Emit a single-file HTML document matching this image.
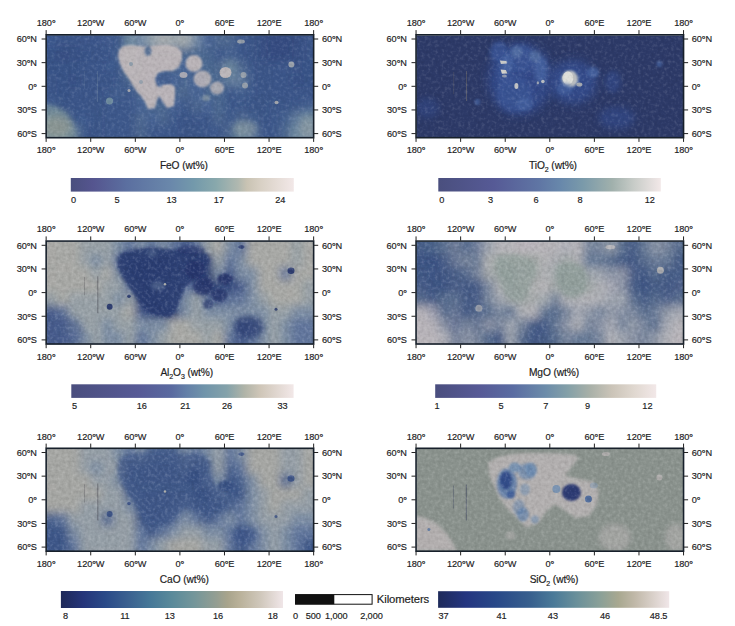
<!DOCTYPE html>
<html><head><meta charset="utf-8"><title>Lunar oxide maps</title>
<style>html,body{margin:0;padding:0;background:#fff;} body{width:735px;height:626px;overflow:hidden;font-family:"Liberation Sans", sans-serif;} svg{display:block}</style>
</head><body>
<svg width="735" height="626" viewBox="0 0 735 626" font-family='"Liberation Sans", sans-serif'>
<style>text{stroke:#1d1d22;stroke-width:0.18px;paint-order:stroke;letter-spacing:-0.1px}</style>
<defs>
<clipPath id="mclip"><rect x="1.5" y="1.6" width="267.2" height="102.4"/></clipPath>
<filter id="gb1" x="-5%" y="-5%" width="110%" height="110%"><feGaussianBlur stdDeviation="1"/></filter><filter id="gb2" x="-5%" y="-5%" width="110%" height="110%"><feGaussianBlur stdDeviation="2"/></filter><filter id="gb3" x="-5%" y="-5%" width="110%" height="110%"><feGaussianBlur stdDeviation="3"/></filter><filter id="gb4" x="-5%" y="-5%" width="110%" height="110%"><feGaussianBlur stdDeviation="4"/></filter><filter id="gb5" x="-5%" y="-5%" width="110%" height="110%"><feGaussianBlur stdDeviation="5"/></filter><filter id="gb6" x="-5%" y="-5%" width="110%" height="110%"><feGaussianBlur stdDeviation="6"/></filter><filter id="gb7" x="-5%" y="-5%" width="110%" height="110%"><feGaussianBlur stdDeviation="7"/></filter><filter id="gb8" x="-5%" y="-5%" width="110%" height="110%"><feGaussianBlur stdDeviation="8"/></filter><filter id="gb9" x="-5%" y="-5%" width="110%" height="110%"><feGaussianBlur stdDeviation="9"/></filter><filter id="gb10" x="-5%" y="-5%" width="110%" height="110%"><feGaussianBlur stdDeviation="10"/></filter><filter id="gb11" x="-5%" y="-5%" width="110%" height="110%"><feGaussianBlur stdDeviation="11"/></filter><filter id="gb12" x="-5%" y="-5%" width="110%" height="110%"><feGaussianBlur stdDeviation="12"/></filter><filter id="b1" x="-50%" y="-50%" width="200%" height="200%"><feGaussianBlur stdDeviation="0.5"/></filter><filter id="b2" x="-50%" y="-50%" width="200%" height="200%"><feGaussianBlur stdDeviation="1.0"/></filter><filter id="b3" x="-50%" y="-50%" width="200%" height="200%"><feGaussianBlur stdDeviation="1.5"/></filter><filter id="b4" x="-50%" y="-50%" width="200%" height="200%"><feGaussianBlur stdDeviation="2.0"/></filter><filter id="b5" x="-50%" y="-50%" width="200%" height="200%"><feGaussianBlur stdDeviation="2.5"/></filter><filter id="b6" x="-50%" y="-50%" width="200%" height="200%"><feGaussianBlur stdDeviation="3.0"/></filter><filter id="b7" x="-50%" y="-50%" width="200%" height="200%"><feGaussianBlur stdDeviation="3.5"/></filter><filter id="b8" x="-50%" y="-50%" width="200%" height="200%"><feGaussianBlur stdDeviation="4.0"/></filter><filter id="b9" x="-50%" y="-50%" width="200%" height="200%"><feGaussianBlur stdDeviation="4.5"/></filter><filter id="b10" x="-50%" y="-50%" width="200%" height="200%"><feGaussianBlur stdDeviation="5.0"/></filter><filter id="b11" x="-50%" y="-50%" width="200%" height="200%"><feGaussianBlur stdDeviation="5.5"/></filter><filter id="b12" x="-50%" y="-50%" width="200%" height="200%"><feGaussianBlur stdDeviation="6.0"/></filter><filter id="b13" x="-50%" y="-50%" width="200%" height="200%"><feGaussianBlur stdDeviation="6.5"/></filter><filter id="b14" x="-50%" y="-50%" width="200%" height="200%"><feGaussianBlur stdDeviation="7.0"/></filter><filter id="b15" x="-50%" y="-50%" width="200%" height="200%"><feGaussianBlur stdDeviation="7.5"/></filter><filter id="b16" x="-50%" y="-50%" width="200%" height="200%"><feGaussianBlur stdDeviation="8.0"/></filter><filter id="b17" x="-50%" y="-50%" width="200%" height="200%"><feGaussianBlur stdDeviation="8.5"/></filter><filter id="b18" x="-50%" y="-50%" width="200%" height="200%"><feGaussianBlur stdDeviation="9.0"/></filter><filter id="b19" x="-50%" y="-50%" width="200%" height="200%"><feGaussianBlur stdDeviation="9.5"/></filter><filter id="b20" x="-50%" y="-50%" width="200%" height="200%"><feGaussianBlur stdDeviation="10.0"/></filter>
<filter id="noise" x="0" y="0" width="100%" height="100%"><feTurbulence type="fractalNoise" baseFrequency="0.3" numOctaves="2" seed="3"/><feColorMatrix type="matrix" values="0 0 0 0 1  0 0 0 0 1  0 0 0 0 1  1.1 0 0 0 -0.55"/></filter>
<filter id="noiseD" x="0" y="0" width="100%" height="100%"><feTurbulence type="fractalNoise" baseFrequency="0.3" numOctaves="2" seed="3"/><feColorMatrix type="matrix" values="0 0 0 0 0  0 0 0 0 0  0 0 0 0 0  -1.1 0 0 0 0.55"/></filter>
</defs>
<rect width="735" height="626" fill="#fff"/>
<g transform="translate(45.00,34.00)" clip-path="url(#mclip)"><rect x="0" y="0" width="270" height="106" fill="#405c8f"/><g filter="url(#gb4)" opacity="1.0"><rect x="-9.93" y="-11.50" width="11.73" height="13.40" fill="#3b578d"/><rect x="1.20" y="-11.50" width="11.73" height="13.40" fill="#3b578d"/><rect x="12.33" y="-11.50" width="11.73" height="13.40" fill="#3a5589"/><rect x="23.47" y="-11.50" width="11.73" height="13.40" fill="#3a5589"/><rect x="34.60" y="-11.50" width="11.73" height="13.40" fill="#3c568b"/><rect x="45.73" y="-11.50" width="11.73" height="13.40" fill="#3a5589"/><rect x="56.87" y="-11.50" width="11.73" height="13.40" fill="#405a8e"/><rect x="68.00" y="-11.50" width="11.73" height="13.40" fill="#3e588b"/><rect x="79.13" y="-11.50" width="11.73" height="13.40" fill="#718ca1"/><rect x="90.27" y="-11.50" width="11.73" height="13.40" fill="#7188a4"/><rect x="101.40" y="-11.50" width="11.73" height="13.40" fill="#94a2ac"/><rect x="112.53" y="-11.50" width="11.73" height="13.40" fill="#a9adb0"/><rect x="123.67" y="-11.50" width="11.73" height="13.40" fill="#9ba5ac"/><rect x="134.80" y="-11.50" width="11.73" height="13.40" fill="#a2a9ad"/><rect x="145.93" y="-11.50" width="11.73" height="13.40" fill="#7188a4"/><rect x="157.07" y="-11.50" width="11.73" height="13.40" fill="#496596"/><rect x="168.20" y="-11.50" width="11.73" height="13.40" fill="#4d6790"/><rect x="179.33" y="-11.50" width="11.73" height="13.40" fill="#4d6790"/><rect x="190.47" y="-11.50" width="11.73" height="13.40" fill="#3e588b"/><rect x="201.60" y="-11.50" width="11.73" height="13.40" fill="#3a5587"/><rect x="212.73" y="-11.50" width="11.73" height="13.40" fill="#374f83"/><rect x="223.87" y="-11.50" width="11.73" height="13.40" fill="#354c80"/><rect x="235.00" y="-11.50" width="11.73" height="13.40" fill="#354c80"/><rect x="246.13" y="-11.50" width="11.73" height="13.40" fill="#374f83"/><rect x="257.27" y="-11.50" width="11.73" height="13.40" fill="#3a5589"/><rect x="268.40" y="-11.50" width="11.73" height="13.40" fill="#3a5589"/><rect x="-9.93" y="1.30" width="11.73" height="13.40" fill="#3b578d"/><rect x="1.20" y="1.30" width="11.73" height="13.40" fill="#3b578d"/><rect x="12.33" y="1.30" width="11.73" height="13.40" fill="#3a5589"/><rect x="23.47" y="1.30" width="11.73" height="13.40" fill="#3a5589"/><rect x="34.60" y="1.30" width="11.73" height="13.40" fill="#3c568b"/><rect x="45.73" y="1.30" width="11.73" height="13.40" fill="#3a5589"/><rect x="56.87" y="1.30" width="11.73" height="13.40" fill="#405a8e"/><rect x="68.00" y="1.30" width="11.73" height="13.40" fill="#3e588b"/><rect x="79.13" y="1.30" width="11.73" height="13.40" fill="#718ca1"/><rect x="90.27" y="1.30" width="11.73" height="13.40" fill="#7188a4"/><rect x="101.40" y="1.30" width="11.73" height="13.40" fill="#94a2ac"/><rect x="112.53" y="1.30" width="11.73" height="13.40" fill="#a9adb0"/><rect x="123.67" y="1.30" width="11.73" height="13.40" fill="#9ba5ac"/><rect x="134.80" y="1.30" width="11.73" height="13.40" fill="#a2a9ad"/><rect x="145.93" y="1.30" width="11.73" height="13.40" fill="#7188a4"/><rect x="157.07" y="1.30" width="11.73" height="13.40" fill="#496596"/><rect x="168.20" y="1.30" width="11.73" height="13.40" fill="#4d6790"/><rect x="179.33" y="1.30" width="11.73" height="13.40" fill="#4d6790"/><rect x="190.47" y="1.30" width="11.73" height="13.40" fill="#3e588b"/><rect x="201.60" y="1.30" width="11.73" height="13.40" fill="#3a5587"/><rect x="212.73" y="1.30" width="11.73" height="13.40" fill="#374f83"/><rect x="223.87" y="1.30" width="11.73" height="13.40" fill="#354c80"/><rect x="235.00" y="1.30" width="11.73" height="13.40" fill="#354c80"/><rect x="246.13" y="1.30" width="11.73" height="13.40" fill="#374f83"/><rect x="257.27" y="1.30" width="11.73" height="13.40" fill="#3a5589"/><rect x="268.40" y="1.30" width="11.73" height="13.40" fill="#3a5589"/><rect x="-9.93" y="14.10" width="11.73" height="13.40" fill="#385387"/><rect x="1.20" y="14.10" width="11.73" height="13.40" fill="#385387"/><rect x="12.33" y="14.10" width="11.73" height="13.40" fill="#374f83"/><rect x="23.47" y="14.10" width="11.73" height="13.40" fill="#375185"/><rect x="34.60" y="14.10" width="11.73" height="13.40" fill="#385387"/><rect x="45.73" y="14.10" width="11.73" height="13.40" fill="#3a5589"/><rect x="56.87" y="14.10" width="11.73" height="13.40" fill="#3a5589"/><rect x="68.00" y="14.10" width="11.73" height="13.40" fill="#456090"/><rect x="79.13" y="14.10" width="11.73" height="13.40" fill="#718ca1"/><rect x="90.27" y="14.10" width="11.73" height="13.40" fill="#4b6790"/><rect x="101.40" y="14.10" width="11.73" height="13.40" fill="#4b6790"/><rect x="112.53" y="14.10" width="11.73" height="13.40" fill="#4b6790"/><rect x="123.67" y="14.10" width="11.73" height="13.40" fill="#4b6790"/><rect x="134.80" y="14.10" width="11.73" height="13.40" fill="#4b6790"/><rect x="145.93" y="14.10" width="11.73" height="13.40" fill="#4b6790"/><rect x="157.07" y="14.10" width="11.73" height="13.40" fill="#4b6790"/><rect x="168.20" y="14.10" width="11.73" height="13.40" fill="#3e588b"/><rect x="179.33" y="14.10" width="11.73" height="13.40" fill="#456090"/><rect x="190.47" y="14.10" width="11.73" height="13.40" fill="#3e588b"/><rect x="201.60" y="14.10" width="11.73" height="13.40" fill="#3a5587"/><rect x="212.73" y="14.10" width="11.73" height="13.40" fill="#374f83"/><rect x="223.87" y="14.10" width="11.73" height="13.40" fill="#354c80"/><rect x="235.00" y="14.10" width="11.73" height="13.40" fill="#354c80"/><rect x="246.13" y="14.10" width="11.73" height="13.40" fill="#374f83"/><rect x="257.27" y="14.10" width="11.73" height="13.40" fill="#3a5589"/><rect x="268.40" y="14.10" width="11.73" height="13.40" fill="#3a5589"/><rect x="-9.93" y="26.90" width="11.73" height="13.40" fill="#385387"/><rect x="1.20" y="26.90" width="11.73" height="13.40" fill="#385387"/><rect x="12.33" y="26.90" width="11.73" height="13.40" fill="#385387"/><rect x="23.47" y="26.90" width="11.73" height="13.40" fill="#385387"/><rect x="34.60" y="26.90" width="11.73" height="13.40" fill="#3a5589"/><rect x="45.73" y="26.90" width="11.73" height="13.40" fill="#3a5589"/><rect x="56.87" y="26.90" width="11.73" height="13.40" fill="#3e5a8e"/><rect x="68.00" y="26.90" width="11.73" height="13.40" fill="#3e588b"/><rect x="79.13" y="26.90" width="11.73" height="13.40" fill="#718ca1"/><rect x="90.27" y="26.90" width="11.73" height="13.40" fill="#4b6790"/><rect x="101.40" y="26.90" width="11.73" height="13.40" fill="#4b6790"/><rect x="112.53" y="26.90" width="11.73" height="13.40" fill="#4b6790"/><rect x="123.67" y="26.90" width="11.73" height="13.40" fill="#4b6790"/><rect x="134.80" y="26.90" width="11.73" height="13.40" fill="#496596"/><rect x="145.93" y="26.90" width="11.73" height="13.40" fill="#4b6790"/><rect x="157.07" y="26.90" width="11.73" height="13.40" fill="#4b6790"/><rect x="168.20" y="26.90" width="11.73" height="13.40" fill="#4d6790"/><rect x="179.33" y="26.90" width="11.73" height="13.40" fill="#718ca1"/><rect x="190.47" y="26.90" width="11.73" height="13.40" fill="#4d6790"/><rect x="201.60" y="26.90" width="11.73" height="13.40" fill="#3e588b"/><rect x="212.73" y="26.90" width="11.73" height="13.40" fill="#3a5587"/><rect x="223.87" y="26.90" width="11.73" height="13.40" fill="#3a5589"/><rect x="235.00" y="26.90" width="11.73" height="13.40" fill="#3e588b"/><rect x="246.13" y="26.90" width="11.73" height="13.40" fill="#3a5589"/><rect x="257.27" y="26.90" width="11.73" height="13.40" fill="#385387"/><rect x="268.40" y="26.90" width="11.73" height="13.40" fill="#385387"/><rect x="-9.93" y="39.70" width="11.73" height="13.40" fill="#3a5589"/><rect x="1.20" y="39.70" width="11.73" height="13.40" fill="#3a5589"/><rect x="12.33" y="39.70" width="11.73" height="13.40" fill="#385387"/><rect x="23.47" y="39.70" width="11.73" height="13.40" fill="#375185"/><rect x="34.60" y="39.70" width="11.73" height="13.40" fill="#3a5589"/><rect x="45.73" y="39.70" width="11.73" height="13.40" fill="#3a5589"/><rect x="56.87" y="39.70" width="11.73" height="13.40" fill="#3a5587"/><rect x="68.00" y="39.70" width="11.73" height="13.40" fill="#3e588b"/><rect x="79.13" y="39.70" width="11.73" height="13.40" fill="#4b6790"/><rect x="90.27" y="39.70" width="11.73" height="13.40" fill="#4b6790"/><rect x="101.40" y="39.70" width="11.73" height="13.40" fill="#496596"/><rect x="112.53" y="39.70" width="11.73" height="13.40" fill="#496596"/><rect x="123.67" y="39.70" width="11.73" height="13.40" fill="#496596"/><rect x="134.80" y="39.70" width="11.73" height="13.40" fill="#4b6790"/><rect x="145.93" y="39.70" width="11.73" height="13.40" fill="#496596"/><rect x="157.07" y="39.70" width="11.73" height="13.40" fill="#4b6790"/><rect x="168.20" y="39.70" width="11.73" height="13.40" fill="#4b6790"/><rect x="179.33" y="39.70" width="11.73" height="13.40" fill="#637d9c"/><rect x="190.47" y="39.70" width="11.73" height="13.40" fill="#637d9c"/><rect x="201.60" y="39.70" width="11.73" height="13.40" fill="#3e588b"/><rect x="212.73" y="39.70" width="11.73" height="13.40" fill="#3a5587"/><rect x="223.87" y="39.70" width="11.73" height="13.40" fill="#3a5589"/><rect x="235.00" y="39.70" width="11.73" height="13.40" fill="#3a5589"/><rect x="246.13" y="39.70" width="11.73" height="13.40" fill="#375185"/><rect x="257.27" y="39.70" width="11.73" height="13.40" fill="#385387"/><rect x="268.40" y="39.70" width="11.73" height="13.40" fill="#385387"/><rect x="-9.93" y="52.50" width="11.73" height="13.40" fill="#3a5589"/><rect x="1.20" y="52.50" width="11.73" height="13.40" fill="#3a5589"/><rect x="12.33" y="52.50" width="11.73" height="13.40" fill="#385387"/><rect x="23.47" y="52.50" width="11.73" height="13.40" fill="#3a5589"/><rect x="34.60" y="52.50" width="11.73" height="13.40" fill="#3a5589"/><rect x="45.73" y="52.50" width="11.73" height="13.40" fill="#3a5589"/><rect x="56.87" y="52.50" width="11.73" height="13.40" fill="#3e588b"/><rect x="68.00" y="52.50" width="11.73" height="13.40" fill="#456090"/><rect x="79.13" y="52.50" width="11.73" height="13.40" fill="#3e588b"/><rect x="90.27" y="52.50" width="11.73" height="13.40" fill="#4b6790"/><rect x="101.40" y="52.50" width="11.73" height="13.40" fill="#4b6790"/><rect x="112.53" y="52.50" width="11.73" height="13.40" fill="#496596"/><rect x="123.67" y="52.50" width="11.73" height="13.40" fill="#4b6790"/><rect x="134.80" y="52.50" width="11.73" height="13.40" fill="#4d6790"/><rect x="145.93" y="52.50" width="11.73" height="13.40" fill="#496596"/><rect x="157.07" y="52.50" width="11.73" height="13.40" fill="#4b6790"/><rect x="168.20" y="52.50" width="11.73" height="13.40" fill="#4b6790"/><rect x="179.33" y="52.50" width="11.73" height="13.40" fill="#3e588b"/><rect x="190.47" y="52.50" width="11.73" height="13.40" fill="#456090"/><rect x="201.60" y="52.50" width="11.73" height="13.40" fill="#3e588b"/><rect x="212.73" y="52.50" width="11.73" height="13.40" fill="#3a5587"/><rect x="223.87" y="52.50" width="11.73" height="13.40" fill="#3a5589"/><rect x="235.00" y="52.50" width="11.73" height="13.40" fill="#3a5589"/><rect x="246.13" y="52.50" width="11.73" height="13.40" fill="#3a5589"/><rect x="257.27" y="52.50" width="11.73" height="13.40" fill="#3a5589"/><rect x="268.40" y="52.50" width="11.73" height="13.40" fill="#3a5589"/><rect x="-9.93" y="65.30" width="11.73" height="13.40" fill="#456191"/><rect x="1.20" y="65.30" width="11.73" height="13.40" fill="#456191"/><rect x="12.33" y="65.30" width="11.73" height="13.40" fill="#3a5587"/><rect x="23.47" y="65.30" width="11.73" height="13.40" fill="#3a5589"/><rect x="34.60" y="65.30" width="11.73" height="13.40" fill="#3a5589"/><rect x="45.73" y="65.30" width="11.73" height="13.40" fill="#3a5587"/><rect x="56.87" y="65.30" width="11.73" height="13.40" fill="#3e588b"/><rect x="68.00" y="65.30" width="11.73" height="13.40" fill="#3e588b"/><rect x="79.13" y="65.30" width="11.73" height="13.40" fill="#3e588b"/><rect x="90.27" y="65.30" width="11.73" height="13.40" fill="#496596"/><rect x="101.40" y="65.30" width="11.73" height="13.40" fill="#4b6790"/><rect x="112.53" y="65.30" width="11.73" height="13.40" fill="#4b6790"/><rect x="123.67" y="65.30" width="11.73" height="13.40" fill="#496596"/><rect x="134.80" y="65.30" width="11.73" height="13.40" fill="#3e588b"/><rect x="145.93" y="65.30" width="11.73" height="13.40" fill="#4d6790"/><rect x="157.07" y="65.30" width="11.73" height="13.40" fill="#496596"/><rect x="168.20" y="65.30" width="11.73" height="13.40" fill="#4b6790"/><rect x="179.33" y="65.30" width="11.73" height="13.40" fill="#3e588b"/><rect x="190.47" y="65.30" width="11.73" height="13.40" fill="#3e588b"/><rect x="201.60" y="65.30" width="11.73" height="13.40" fill="#3a5587"/><rect x="212.73" y="65.30" width="11.73" height="13.40" fill="#3a5587"/><rect x="223.87" y="65.30" width="11.73" height="13.40" fill="#3e588b"/><rect x="235.00" y="65.30" width="11.73" height="13.40" fill="#3a5587"/><rect x="246.13" y="65.30" width="11.73" height="13.40" fill="#3e588b"/><rect x="257.27" y="65.30" width="11.73" height="13.40" fill="#456090"/><rect x="268.40" y="65.30" width="11.73" height="13.40" fill="#456090"/><rect x="-9.93" y="78.10" width="11.73" height="13.40" fill="#718c9d"/><rect x="1.20" y="78.10" width="11.73" height="13.40" fill="#718c9d"/><rect x="12.33" y="78.10" width="11.73" height="13.40" fill="#637d99"/><rect x="23.47" y="78.10" width="11.73" height="13.40" fill="#3e588b"/><rect x="34.60" y="78.10" width="11.73" height="13.40" fill="#3e5a8e"/><rect x="45.73" y="78.10" width="11.73" height="13.40" fill="#3a5587"/><rect x="56.87" y="78.10" width="11.73" height="13.40" fill="#3e588b"/><rect x="68.00" y="78.10" width="11.73" height="13.40" fill="#3e588b"/><rect x="79.13" y="78.10" width="11.73" height="13.40" fill="#3e588b"/><rect x="90.27" y="78.10" width="11.73" height="13.40" fill="#4d6790"/><rect x="101.40" y="78.10" width="11.73" height="13.40" fill="#496596"/><rect x="112.53" y="78.10" width="11.73" height="13.40" fill="#4d6790"/><rect x="123.67" y="78.10" width="11.73" height="13.40" fill="#3e588b"/><rect x="134.80" y="78.10" width="11.73" height="13.40" fill="#3a5587"/><rect x="145.93" y="78.10" width="11.73" height="13.40" fill="#3e588b"/><rect x="157.07" y="78.10" width="11.73" height="13.40" fill="#3e588b"/><rect x="168.20" y="78.10" width="11.73" height="13.40" fill="#4d6790"/><rect x="179.33" y="78.10" width="11.73" height="13.40" fill="#3e588b"/><rect x="190.47" y="78.10" width="11.73" height="13.40" fill="#4d6790"/><rect x="201.60" y="78.10" width="11.73" height="13.40" fill="#456090"/><rect x="212.73" y="78.10" width="11.73" height="13.40" fill="#3a5587"/><rect x="223.87" y="78.10" width="11.73" height="13.40" fill="#3e588b"/><rect x="235.00" y="78.10" width="11.73" height="13.40" fill="#456090"/><rect x="246.13" y="78.10" width="11.73" height="13.40" fill="#637d9c"/><rect x="257.27" y="78.10" width="11.73" height="13.40" fill="#718ca1"/><rect x="268.40" y="78.10" width="11.73" height="13.40" fill="#718ca1"/><rect x="-9.93" y="90.90" width="11.73" height="13.40" fill="#80939d"/><rect x="1.20" y="90.90" width="11.73" height="13.40" fill="#80939d"/><rect x="12.33" y="90.90" width="11.73" height="13.40" fill="#80939d"/><rect x="23.47" y="90.90" width="11.73" height="13.40" fill="#637d99"/><rect x="34.60" y="90.90" width="11.73" height="13.40" fill="#3e588b"/><rect x="45.73" y="90.90" width="11.73" height="13.40" fill="#3a5587"/><rect x="56.87" y="90.90" width="11.73" height="13.40" fill="#3e588b"/><rect x="68.00" y="90.90" width="11.73" height="13.40" fill="#3e588b"/><rect x="79.13" y="90.90" width="11.73" height="13.40" fill="#3e588b"/><rect x="90.27" y="90.90" width="11.73" height="13.40" fill="#4d6790"/><rect x="101.40" y="90.90" width="11.73" height="13.40" fill="#3e588b"/><rect x="112.53" y="90.90" width="11.73" height="13.40" fill="#3e588b"/><rect x="123.67" y="90.90" width="11.73" height="13.40" fill="#3e588b"/><rect x="134.80" y="90.90" width="11.73" height="13.40" fill="#3a5587"/><rect x="145.93" y="90.90" width="11.73" height="13.40" fill="#3a5587"/><rect x="157.07" y="90.90" width="11.73" height="13.40" fill="#3e588b"/><rect x="168.20" y="90.90" width="11.73" height="13.40" fill="#3e588b"/><rect x="179.33" y="90.90" width="11.73" height="13.40" fill="#4d6790"/><rect x="190.47" y="90.90" width="11.73" height="13.40" fill="#718ca1"/><rect x="201.60" y="90.90" width="11.73" height="13.40" fill="#637d9c"/><rect x="212.73" y="90.90" width="11.73" height="13.40" fill="#3e588b"/><rect x="223.87" y="90.90" width="11.73" height="13.40" fill="#3e588b"/><rect x="235.00" y="90.90" width="11.73" height="13.40" fill="#4d6790"/><rect x="246.13" y="90.90" width="11.73" height="13.40" fill="#718ca1"/><rect x="257.27" y="90.90" width="11.73" height="13.40" fill="#8093a4"/><rect x="268.40" y="90.90" width="11.73" height="13.40" fill="#8093a4"/><rect x="-9.93" y="103.70" width="11.73" height="13.40" fill="#80939d"/><rect x="1.20" y="103.70" width="11.73" height="13.40" fill="#80939d"/><rect x="12.33" y="103.70" width="11.73" height="13.40" fill="#80939d"/><rect x="23.47" y="103.70" width="11.73" height="13.40" fill="#637d99"/><rect x="34.60" y="103.70" width="11.73" height="13.40" fill="#3e588b"/><rect x="45.73" y="103.70" width="11.73" height="13.40" fill="#3a5587"/><rect x="56.87" y="103.70" width="11.73" height="13.40" fill="#3e588b"/><rect x="68.00" y="103.70" width="11.73" height="13.40" fill="#3e588b"/><rect x="79.13" y="103.70" width="11.73" height="13.40" fill="#3e588b"/><rect x="90.27" y="103.70" width="11.73" height="13.40" fill="#4d6790"/><rect x="101.40" y="103.70" width="11.73" height="13.40" fill="#3e588b"/><rect x="112.53" y="103.70" width="11.73" height="13.40" fill="#3e588b"/><rect x="123.67" y="103.70" width="11.73" height="13.40" fill="#3e588b"/><rect x="134.80" y="103.70" width="11.73" height="13.40" fill="#3a5587"/><rect x="145.93" y="103.70" width="11.73" height="13.40" fill="#3a5587"/><rect x="157.07" y="103.70" width="11.73" height="13.40" fill="#3e588b"/><rect x="168.20" y="103.70" width="11.73" height="13.40" fill="#3e588b"/><rect x="179.33" y="103.70" width="11.73" height="13.40" fill="#4d6790"/><rect x="190.47" y="103.70" width="11.73" height="13.40" fill="#718ca1"/><rect x="201.60" y="103.70" width="11.73" height="13.40" fill="#637d9c"/><rect x="212.73" y="103.70" width="11.73" height="13.40" fill="#3e588b"/><rect x="223.87" y="103.70" width="11.73" height="13.40" fill="#3e588b"/><rect x="235.00" y="103.70" width="11.73" height="13.40" fill="#4d6790"/><rect x="246.13" y="103.70" width="11.73" height="13.40" fill="#718ca1"/><rect x="257.27" y="103.70" width="11.73" height="13.40" fill="#8093a4"/><rect x="268.40" y="103.70" width="11.73" height="13.40" fill="#8093a4"/></g><path d="M74,16 L78,12 L86,11 L95,12 L102,13 L106,12 L114,11 L124,11 L132,13 L137,18 L137,26 L134,33 L128,37 L120,37 L113,39 L110,45 L112,52 L116,53 L118,50 L126,50 L130,53 L130,62 L129,72 L122,74 L118,68 L114,62 L112,66 L110,74 L103,75 L100,68 L96,62 L92,58 L88,52 L84,45 L79,38 L75,30 L73,22 Z" fill="#bfb8ba" opacity="0.95" filter="url(#b2)"/><ellipse cx="103" cy="17" rx="3.5" ry="5" fill="#4b6790" opacity="0.85" filter="url(#b2)"/><ellipse cx="120" cy="44.5" rx="7" ry="5.5" fill="#456090" opacity="0.9" filter="url(#b2)"/><ellipse cx="86" cy="30" rx="2" ry="2" fill="#718ca1" opacity="0.6" filter="url(#b1)"/><ellipse cx="96" cy="48" rx="2" ry="2" fill="#718ca1" opacity="0.5" filter="url(#b1)"/><ellipse cx="149" cy="29.5" rx="8.5" ry="8.5" fill="#bfb8ba" opacity="0.95" filter="url(#b2)"/><ellipse cx="157.5" cy="45" rx="9" ry="8.5" fill="#bfb8ba" opacity="0.85" filter="url(#b2)"/><ellipse cx="180.5" cy="38.5" rx="6" ry="5.5" fill="#bfb8ba" opacity="0.95" filter="url(#b1.5)"/><ellipse cx="172" cy="54" rx="7" ry="6.5" fill="#bfb8ba" opacity="0.8" filter="url(#b2)"/><ellipse cx="138.5" cy="41" rx="4" ry="3" fill="#bfb8ba" opacity="0.8" filter="url(#b1)"/><ellipse cx="161" cy="64" rx="4" ry="3" fill="#9ba9ac" opacity="0.6" filter="url(#b2)"/><ellipse cx="196" cy="7.5" rx="4" ry="2" fill="#b1b4b1" opacity="0.7" filter="url(#b1)"/><ellipse cx="198.5" cy="41" rx="3" ry="3" fill="#b1b4b4" opacity="0.7" filter="url(#b1)"/><ellipse cx="200" cy="51.5" rx="3" ry="3" fill="#b1b4b4" opacity="0.7" filter="url(#b1)"/><ellipse cx="246.4" cy="30.5" rx="3" ry="3" fill="#b1b4b4" opacity="0.8" filter="url(#b1)"/><ellipse cx="231.5" cy="68.5" rx="2" ry="1.8" fill="#bfbcb8" opacity="0.8" filter="url(#b1)"/><ellipse cx="84" cy="56.5" rx="1.5" ry="1.5" fill="#bfbcb8" opacity="0.8"/><ellipse cx="64.5" cy="67" rx="3.5" ry="3.5" fill="#85a2a8" opacity="0.7" filter="url(#b1)"/><path d="M0,70 L10,72 L20,78 L28,88 L32,104 L0,104 Z" fill="#80979a" opacity="0.6" filter="url(#b4)"/><ellipse cx="12" cy="92" rx="14" ry="10" fill="#9a9a8c" opacity="0.45" filter="url(#b6)"/><ellipse cx="200" cy="94" rx="12" ry="8" fill="#8e9ca1" opacity="0.45" filter="url(#b5)"/><ellipse cx="262" cy="92" rx="8" ry="10" fill="#8e9ca1" opacity="0.45" filter="url(#b5)"/><line x1="52.6" y1="37" x2="52.6" y2="68" stroke="#8ea2b0" stroke-width="0.7" opacity="0.4"/><line x1="39.5" y1="37" x2="39.5" y2="55" stroke="#7184a0" stroke-width="0.7" opacity="0.3"/><rect x="0" y="0" width="270" height="106" filter="url(#noise)" opacity="0.3"/><rect x="0" y="0" width="270" height="106" filter="url(#noiseD)" opacity="0.156"/></g>
<rect x="46.15" y="34.80" width="267.50" height="102.90" fill="none" stroke="#17202b" stroke-width="1.6"/>
<line x1="46.15" y1="30.10" x2="46.15" y2="34.40" stroke="#222" stroke-width="1"/>
<line x1="46.15" y1="138.10" x2="46.15" y2="141.90" stroke="#222" stroke-width="1"/>
<text transform="translate(46.15 26.10) scale(0.93 1)" font-size="9.9" text-anchor="middle" fill="#1d1d1f" >180<tspan font-weight="bold">°</tspan></text>
<text transform="translate(46.15 153.30) scale(0.93 1)" font-size="9.9" text-anchor="middle" fill="#1d1d1f" >180<tspan font-weight="bold">°</tspan></text>
<line x1="90.73" y1="30.10" x2="90.73" y2="34.40" stroke="#222" stroke-width="1"/>
<line x1="90.73" y1="138.10" x2="90.73" y2="141.90" stroke="#222" stroke-width="1"/>
<text transform="translate(90.73 26.10) scale(0.93 1)" font-size="9.9" text-anchor="middle" fill="#1d1d1f" >120<tspan font-weight="bold">°</tspan>W</text>
<text transform="translate(90.73 153.30) scale(0.93 1)" font-size="9.9" text-anchor="middle" fill="#1d1d1f" >120<tspan font-weight="bold">°</tspan>W</text>
<line x1="135.32" y1="30.10" x2="135.32" y2="34.40" stroke="#222" stroke-width="1"/>
<line x1="135.32" y1="138.10" x2="135.32" y2="141.90" stroke="#222" stroke-width="1"/>
<text transform="translate(135.32 26.10) scale(0.93 1)" font-size="9.9" text-anchor="middle" fill="#1d1d1f" >60<tspan font-weight="bold">°</tspan>W</text>
<text transform="translate(135.32 153.30) scale(0.93 1)" font-size="9.9" text-anchor="middle" fill="#1d1d1f" >60<tspan font-weight="bold">°</tspan>W</text>
<line x1="179.90" y1="30.10" x2="179.90" y2="34.40" stroke="#222" stroke-width="1"/>
<line x1="179.90" y1="138.10" x2="179.90" y2="141.90" stroke="#222" stroke-width="1"/>
<text transform="translate(179.90 26.10) scale(0.93 1)" font-size="9.9" text-anchor="middle" fill="#1d1d1f" >0<tspan font-weight="bold">°</tspan></text>
<text transform="translate(179.90 153.30) scale(0.93 1)" font-size="9.9" text-anchor="middle" fill="#1d1d1f" >0<tspan font-weight="bold">°</tspan></text>
<line x1="224.48" y1="30.10" x2="224.48" y2="34.40" stroke="#222" stroke-width="1"/>
<line x1="224.48" y1="138.10" x2="224.48" y2="141.90" stroke="#222" stroke-width="1"/>
<text transform="translate(224.48 26.10) scale(0.93 1)" font-size="9.9" text-anchor="middle" fill="#1d1d1f" >60<tspan font-weight="bold">°</tspan>E</text>
<text transform="translate(224.48 153.30) scale(0.93 1)" font-size="9.9" text-anchor="middle" fill="#1d1d1f" >60<tspan font-weight="bold">°</tspan>E</text>
<line x1="269.07" y1="30.10" x2="269.07" y2="34.40" stroke="#222" stroke-width="1"/>
<line x1="269.07" y1="138.10" x2="269.07" y2="141.90" stroke="#222" stroke-width="1"/>
<text transform="translate(269.07 26.10) scale(0.93 1)" font-size="9.9" text-anchor="middle" fill="#1d1d1f" >120<tspan font-weight="bold">°</tspan>E</text>
<text transform="translate(269.07 153.30) scale(0.93 1)" font-size="9.9" text-anchor="middle" fill="#1d1d1f" >120<tspan font-weight="bold">°</tspan>E</text>
<line x1="313.65" y1="30.10" x2="313.65" y2="34.40" stroke="#222" stroke-width="1"/>
<line x1="313.65" y1="138.10" x2="313.65" y2="141.90" stroke="#222" stroke-width="1"/>
<text transform="translate(313.65 26.10) scale(0.93 1)" font-size="9.9" text-anchor="middle" fill="#1d1d1f" >180<tspan font-weight="bold">°</tspan></text>
<text transform="translate(313.65 153.30) scale(0.93 1)" font-size="9.9" text-anchor="middle" fill="#1d1d1f" >180<tspan font-weight="bold">°</tspan></text>
<line x1="41.60" y1="39.00" x2="45.90" y2="39.00" stroke="#222" stroke-width="1"/>
<line x1="313.90" y1="39.00" x2="318.20" y2="39.00" stroke="#222" stroke-width="1"/>
<text transform="translate(36.90 42.30) scale(0.93 1)" font-size="9.9" text-anchor="end" fill="#1d1d1f" >60<tspan font-weight="bold">°</tspan>N</text>
<text transform="translate(321.90 42.30) scale(0.93 1)" font-size="9.9" text-anchor="start" fill="#1d1d1f" >60<tspan font-weight="bold">°</tspan>N</text>
<line x1="41.60" y1="62.65" x2="45.90" y2="62.65" stroke="#222" stroke-width="1"/>
<line x1="313.90" y1="62.65" x2="318.20" y2="62.65" stroke="#222" stroke-width="1"/>
<text transform="translate(36.90 65.95) scale(0.93 1)" font-size="9.9" text-anchor="end" fill="#1d1d1f" >30<tspan font-weight="bold">°</tspan>N</text>
<text transform="translate(321.90 65.95) scale(0.93 1)" font-size="9.9" text-anchor="start" fill="#1d1d1f" >30<tspan font-weight="bold">°</tspan>N</text>
<line x1="41.60" y1="86.30" x2="45.90" y2="86.30" stroke="#222" stroke-width="1"/>
<line x1="313.90" y1="86.30" x2="318.20" y2="86.30" stroke="#222" stroke-width="1"/>
<text transform="translate(36.90 89.60) scale(0.93 1)" font-size="9.9" text-anchor="end" fill="#1d1d1f" >0<tspan font-weight="bold">°</tspan></text>
<text transform="translate(321.90 89.60) scale(0.93 1)" font-size="9.9" text-anchor="start" fill="#1d1d1f" >0<tspan font-weight="bold">°</tspan></text>
<line x1="41.60" y1="109.95" x2="45.90" y2="109.95" stroke="#222" stroke-width="1"/>
<line x1="313.90" y1="109.95" x2="318.20" y2="109.95" stroke="#222" stroke-width="1"/>
<text transform="translate(36.90 113.25) scale(0.93 1)" font-size="9.9" text-anchor="end" fill="#1d1d1f" >30<tspan font-weight="bold">°</tspan>S</text>
<text transform="translate(321.90 113.25) scale(0.93 1)" font-size="9.9" text-anchor="start" fill="#1d1d1f" >30<tspan font-weight="bold">°</tspan>S</text>
<line x1="41.60" y1="133.60" x2="45.90" y2="133.60" stroke="#222" stroke-width="1"/>
<line x1="313.90" y1="133.60" x2="318.20" y2="133.60" stroke="#222" stroke-width="1"/>
<text transform="translate(36.90 136.90) scale(0.93 1)" font-size="9.9" text-anchor="end" fill="#1d1d1f" >60<tspan font-weight="bold">°</tspan>S</text>
<text transform="translate(321.90 136.90) scale(0.93 1)" font-size="9.9" text-anchor="start" fill="#1d1d1f" >60<tspan font-weight="bold">°</tspan>S</text>
<g transform="translate(414.90,34.00)" clip-path="url(#mclip)"><rect x="0" y="0" width="270" height="106" fill="#2d3a68"/><ellipse cx="105" cy="45" rx="32" ry="36" fill="#364e8f" opacity="0.8" filter="url(#b10)"/><ellipse cx="84" cy="18" rx="9" ry="11" fill="#3a5595" opacity="0.9" filter="url(#b4)"/><ellipse cx="106" cy="25" rx="14" ry="14" fill="#3a5595" opacity="0.9" filter="url(#b4)"/><ellipse cx="100" cy="60" rx="18" ry="18" fill="#3a5595" opacity="0.85" filter="url(#b5)"/><ellipse cx="90" cy="40" rx="8" ry="14" fill="#3a5595" opacity="0.8" filter="url(#b4)"/><ellipse cx="126" cy="36" rx="7" ry="14" fill="#4866a4" opacity="0.8" filter="url(#b4)"/><ellipse cx="92" cy="30" rx="6" ry="10" fill="#4866a4" opacity="0.8" filter="url(#b3)"/><ellipse cx="102" cy="18" rx="6" ry="6" fill="#607dac" opacity="0.6" filter="url(#b3)"/><ellipse cx="120" cy="22" rx="6" ry="6" fill="#607dac" opacity="0.6" filter="url(#b3)"/><ellipse cx="110" cy="70" rx="8" ry="7" fill="#4866a4" opacity="0.6" filter="url(#b3)"/><path d="M85,26.5 L91.5,27 L92,29.5 L86,30 Z" fill="#e0dcce" opacity="0.85" filter="url(#b1)"/><path d="M85.7,35.5 L91,36 L92.5,39.5 L87,39.8 Z" fill="#e0dcce" opacity="0.9" filter="url(#b1)"/><ellipse cx="89.5" cy="42" rx="2.5" ry="1.5" fill="#e0dcce" opacity="0.5" filter="url(#b1)"/><ellipse cx="101.5" cy="52" rx="2" ry="3" fill="#e0dcce" opacity="0.8" filter="url(#b1)"/><ellipse cx="128" cy="47.5" rx="1.8" ry="1.8" fill="#e0dcce" opacity="0.8" filter="url(#b1)"/><ellipse cx="123" cy="48.8" rx="1.2" ry="1.5" fill="#e0dcce" opacity="0.6"/><ellipse cx="158" cy="48" rx="24" ry="22" fill="#364e8f" opacity="0.85" filter="url(#b8)"/><ellipse cx="155" cy="45" rx="10" ry="9" fill="#4866a4" opacity="0.8" filter="url(#b3)"/><ellipse cx="155" cy="45" rx="8" ry="8.5" fill="#c6c7c2" opacity="0.9" filter="url(#b2)"/><ellipse cx="153" cy="44" rx="5.5" ry="6.5" fill="#e2e2dd" opacity="0.9" filter="url(#b1)"/><ellipse cx="164.5" cy="50.5" rx="3" ry="2" fill="#bebeb7" opacity="0.8" filter="url(#b1)"/><ellipse cx="150" cy="55" rx="8" ry="6" fill="#4866a4" opacity="0.6" filter="url(#b3)"/><ellipse cx="178" cy="38.5" rx="6" ry="5.5" fill="#4866a4" opacity="0.8" filter="url(#b3)"/><ellipse cx="198" cy="48" rx="8" ry="11" fill="#364e8f" opacity="0.6" filter="url(#b5)"/><ellipse cx="202" cy="84" rx="18" ry="11" fill="#364e8f" opacity="0.6" filter="url(#b7)"/><ellipse cx="12" cy="74" rx="12" ry="10" fill="#364e8f" opacity="0.45" filter="url(#b6)"/><ellipse cx="62.5" cy="68" rx="3" ry="3" fill="#4866a4" opacity="0.7" filter="url(#b2)"/><ellipse cx="244.5" cy="30" rx="3" ry="3" fill="#4866a4" opacity="0.7" filter="url(#b2)"/><line x1="51.6" y1="37" x2="51.6" y2="67" stroke="#837a6b" stroke-width="0.7" opacity="0.6"/><line x1="38.8" y1="38" x2="38.8" y2="60" stroke="#65656a" stroke-width="0.7" opacity="0.5"/><rect x="0" y="0" width="270" height="106" filter="url(#noise)" opacity="0.3"/><rect x="0" y="0" width="270" height="106" filter="url(#noiseD)" opacity="0.156"/></g>
<rect x="416.05" y="34.80" width="267.50" height="102.90" fill="none" stroke="#17202b" stroke-width="1.6"/>
<line x1="416.05" y1="30.10" x2="416.05" y2="34.40" stroke="#222" stroke-width="1"/>
<line x1="416.05" y1="138.10" x2="416.05" y2="141.90" stroke="#222" stroke-width="1"/>
<text transform="translate(416.05 26.10) scale(0.93 1)" font-size="9.9" text-anchor="middle" fill="#1d1d1f" >180<tspan font-weight="bold">°</tspan></text>
<text transform="translate(416.05 153.30) scale(0.93 1)" font-size="9.9" text-anchor="middle" fill="#1d1d1f" >180<tspan font-weight="bold">°</tspan></text>
<line x1="460.63" y1="30.10" x2="460.63" y2="34.40" stroke="#222" stroke-width="1"/>
<line x1="460.63" y1="138.10" x2="460.63" y2="141.90" stroke="#222" stroke-width="1"/>
<text transform="translate(460.63 26.10) scale(0.93 1)" font-size="9.9" text-anchor="middle" fill="#1d1d1f" >120<tspan font-weight="bold">°</tspan>W</text>
<text transform="translate(460.63 153.30) scale(0.93 1)" font-size="9.9" text-anchor="middle" fill="#1d1d1f" >120<tspan font-weight="bold">°</tspan>W</text>
<line x1="505.22" y1="30.10" x2="505.22" y2="34.40" stroke="#222" stroke-width="1"/>
<line x1="505.22" y1="138.10" x2="505.22" y2="141.90" stroke="#222" stroke-width="1"/>
<text transform="translate(505.22 26.10) scale(0.93 1)" font-size="9.9" text-anchor="middle" fill="#1d1d1f" >60<tspan font-weight="bold">°</tspan>W</text>
<text transform="translate(505.22 153.30) scale(0.93 1)" font-size="9.9" text-anchor="middle" fill="#1d1d1f" >60<tspan font-weight="bold">°</tspan>W</text>
<line x1="549.80" y1="30.10" x2="549.80" y2="34.40" stroke="#222" stroke-width="1"/>
<line x1="549.80" y1="138.10" x2="549.80" y2="141.90" stroke="#222" stroke-width="1"/>
<text transform="translate(549.80 26.10) scale(0.93 1)" font-size="9.9" text-anchor="middle" fill="#1d1d1f" >0<tspan font-weight="bold">°</tspan></text>
<text transform="translate(549.80 153.30) scale(0.93 1)" font-size="9.9" text-anchor="middle" fill="#1d1d1f" >0<tspan font-weight="bold">°</tspan></text>
<line x1="594.38" y1="30.10" x2="594.38" y2="34.40" stroke="#222" stroke-width="1"/>
<line x1="594.38" y1="138.10" x2="594.38" y2="141.90" stroke="#222" stroke-width="1"/>
<text transform="translate(594.38 26.10) scale(0.93 1)" font-size="9.9" text-anchor="middle" fill="#1d1d1f" >60<tspan font-weight="bold">°</tspan>E</text>
<text transform="translate(594.38 153.30) scale(0.93 1)" font-size="9.9" text-anchor="middle" fill="#1d1d1f" >60<tspan font-weight="bold">°</tspan>E</text>
<line x1="638.97" y1="30.10" x2="638.97" y2="34.40" stroke="#222" stroke-width="1"/>
<line x1="638.97" y1="138.10" x2="638.97" y2="141.90" stroke="#222" stroke-width="1"/>
<text transform="translate(638.97 26.10) scale(0.93 1)" font-size="9.9" text-anchor="middle" fill="#1d1d1f" >120<tspan font-weight="bold">°</tspan>E</text>
<text transform="translate(638.97 153.30) scale(0.93 1)" font-size="9.9" text-anchor="middle" fill="#1d1d1f" >120<tspan font-weight="bold">°</tspan>E</text>
<line x1="683.55" y1="30.10" x2="683.55" y2="34.40" stroke="#222" stroke-width="1"/>
<line x1="683.55" y1="138.10" x2="683.55" y2="141.90" stroke="#222" stroke-width="1"/>
<text transform="translate(683.55 26.10) scale(0.93 1)" font-size="9.9" text-anchor="middle" fill="#1d1d1f" >180<tspan font-weight="bold">°</tspan></text>
<text transform="translate(683.55 153.30) scale(0.93 1)" font-size="9.9" text-anchor="middle" fill="#1d1d1f" >180<tspan font-weight="bold">°</tspan></text>
<line x1="411.50" y1="39.00" x2="415.80" y2="39.00" stroke="#222" stroke-width="1"/>
<line x1="683.80" y1="39.00" x2="688.10" y2="39.00" stroke="#222" stroke-width="1"/>
<text transform="translate(406.80 42.30) scale(0.93 1)" font-size="9.9" text-anchor="end" fill="#1d1d1f" >60<tspan font-weight="bold">°</tspan>N</text>
<text transform="translate(691.80 42.30) scale(0.93 1)" font-size="9.9" text-anchor="start" fill="#1d1d1f" >60<tspan font-weight="bold">°</tspan>N</text>
<line x1="411.50" y1="62.65" x2="415.80" y2="62.65" stroke="#222" stroke-width="1"/>
<line x1="683.80" y1="62.65" x2="688.10" y2="62.65" stroke="#222" stroke-width="1"/>
<text transform="translate(406.80 65.95) scale(0.93 1)" font-size="9.9" text-anchor="end" fill="#1d1d1f" >30<tspan font-weight="bold">°</tspan>N</text>
<text transform="translate(691.80 65.95) scale(0.93 1)" font-size="9.9" text-anchor="start" fill="#1d1d1f" >30<tspan font-weight="bold">°</tspan>N</text>
<line x1="411.50" y1="86.30" x2="415.80" y2="86.30" stroke="#222" stroke-width="1"/>
<line x1="683.80" y1="86.30" x2="688.10" y2="86.30" stroke="#222" stroke-width="1"/>
<text transform="translate(406.80 89.60) scale(0.93 1)" font-size="9.9" text-anchor="end" fill="#1d1d1f" >0<tspan font-weight="bold">°</tspan></text>
<text transform="translate(691.80 89.60) scale(0.93 1)" font-size="9.9" text-anchor="start" fill="#1d1d1f" >0<tspan font-weight="bold">°</tspan></text>
<line x1="411.50" y1="109.95" x2="415.80" y2="109.95" stroke="#222" stroke-width="1"/>
<line x1="683.80" y1="109.95" x2="688.10" y2="109.95" stroke="#222" stroke-width="1"/>
<text transform="translate(406.80 113.25) scale(0.93 1)" font-size="9.9" text-anchor="end" fill="#1d1d1f" >30<tspan font-weight="bold">°</tspan>S</text>
<text transform="translate(691.80 113.25) scale(0.93 1)" font-size="9.9" text-anchor="start" fill="#1d1d1f" >30<tspan font-weight="bold">°</tspan>S</text>
<line x1="411.50" y1="133.60" x2="415.80" y2="133.60" stroke="#222" stroke-width="1"/>
<line x1="683.80" y1="133.60" x2="688.10" y2="133.60" stroke="#222" stroke-width="1"/>
<text transform="translate(406.80 136.90) scale(0.93 1)" font-size="9.9" text-anchor="end" fill="#1d1d1f" >60<tspan font-weight="bold">°</tspan>S</text>
<text transform="translate(691.80 136.90) scale(0.93 1)" font-size="9.9" text-anchor="start" fill="#1d1d1f" >60<tspan font-weight="bold">°</tspan>S</text>
<g transform="translate(45.00,240.30)" clip-path="url(#mclip)"><rect x="0" y="0" width="270" height="106" fill="#9ca2a4"/><g filter="url(#gb4)" opacity="1.0"><rect x="-9.93" y="-11.50" width="11.73" height="13.40" fill="#a7a8a5"/><rect x="1.20" y="-11.50" width="11.73" height="13.40" fill="#a7a8a5"/><rect x="12.33" y="-11.50" width="11.73" height="13.40" fill="#a7a8a5"/><rect x="23.47" y="-11.50" width="11.73" height="13.40" fill="#a7a8a5"/><rect x="34.60" y="-11.50" width="11.73" height="13.40" fill="#97a0a6"/><rect x="45.73" y="-11.50" width="11.73" height="13.40" fill="#97a0a6"/><rect x="56.87" y="-11.50" width="11.73" height="13.40" fill="#97a0a6"/><rect x="68.00" y="-11.50" width="11.73" height="13.40" fill="#7d8ea4"/><rect x="79.13" y="-11.50" width="11.73" height="13.40" fill="#61759b"/><rect x="90.27" y="-11.50" width="11.73" height="13.40" fill="#7d8ea4"/><rect x="101.40" y="-11.50" width="11.73" height="13.40" fill="#61759b"/><rect x="112.53" y="-11.50" width="11.73" height="13.40" fill="#7d8ea4"/><rect x="123.67" y="-11.50" width="11.73" height="13.40" fill="#61759b"/><rect x="134.80" y="-11.50" width="11.73" height="13.40" fill="#475c8c"/><rect x="145.93" y="-11.50" width="11.73" height="13.40" fill="#61759b"/><rect x="157.07" y="-11.50" width="11.73" height="13.40" fill="#97a0a6"/><rect x="168.20" y="-11.50" width="11.73" height="13.40" fill="#a7a8a5"/><rect x="179.33" y="-11.50" width="11.73" height="13.40" fill="#7d8ea4"/><rect x="190.47" y="-11.50" width="11.73" height="13.40" fill="#61759b"/><rect x="201.60" y="-11.50" width="11.73" height="13.40" fill="#a7a8a5"/><rect x="212.73" y="-11.50" width="11.73" height="13.40" fill="#a7a8a5"/><rect x="223.87" y="-11.50" width="11.73" height="13.40" fill="#a7a8a5"/><rect x="235.00" y="-11.50" width="11.73" height="13.40" fill="#a7a8a5"/><rect x="246.13" y="-11.50" width="11.73" height="13.40" fill="#97a0a6"/><rect x="257.27" y="-11.50" width="11.73" height="13.40" fill="#a7a8a5"/><rect x="268.40" y="-11.50" width="11.73" height="13.40" fill="#a7a8a5"/><rect x="-9.93" y="1.30" width="11.73" height="13.40" fill="#a7a8a5"/><rect x="1.20" y="1.30" width="11.73" height="13.40" fill="#a7a8a5"/><rect x="12.33" y="1.30" width="11.73" height="13.40" fill="#a7a8a5"/><rect x="23.47" y="1.30" width="11.73" height="13.40" fill="#a7a8a5"/><rect x="34.60" y="1.30" width="11.73" height="13.40" fill="#97a0a6"/><rect x="45.73" y="1.30" width="11.73" height="13.40" fill="#97a0a6"/><rect x="56.87" y="1.30" width="11.73" height="13.40" fill="#97a0a6"/><rect x="68.00" y="1.30" width="11.73" height="13.40" fill="#7d8ea4"/><rect x="79.13" y="1.30" width="11.73" height="13.40" fill="#61759b"/><rect x="90.27" y="1.30" width="11.73" height="13.40" fill="#7d8ea4"/><rect x="101.40" y="1.30" width="11.73" height="13.40" fill="#61759b"/><rect x="112.53" y="1.30" width="11.73" height="13.40" fill="#7d8ea4"/><rect x="123.67" y="1.30" width="11.73" height="13.40" fill="#61759b"/><rect x="134.80" y="1.30" width="11.73" height="13.40" fill="#475c8c"/><rect x="145.93" y="1.30" width="11.73" height="13.40" fill="#61759b"/><rect x="157.07" y="1.30" width="11.73" height="13.40" fill="#97a0a6"/><rect x="168.20" y="1.30" width="11.73" height="13.40" fill="#a7a8a5"/><rect x="179.33" y="1.30" width="11.73" height="13.40" fill="#7d8ea4"/><rect x="190.47" y="1.30" width="11.73" height="13.40" fill="#61759b"/><rect x="201.60" y="1.30" width="11.73" height="13.40" fill="#a7a8a5"/><rect x="212.73" y="1.30" width="11.73" height="13.40" fill="#a7a8a5"/><rect x="223.87" y="1.30" width="11.73" height="13.40" fill="#a7a8a5"/><rect x="235.00" y="1.30" width="11.73" height="13.40" fill="#a7a8a5"/><rect x="246.13" y="1.30" width="11.73" height="13.40" fill="#97a0a6"/><rect x="257.27" y="1.30" width="11.73" height="13.40" fill="#a7a8a5"/><rect x="268.40" y="1.30" width="11.73" height="13.40" fill="#a7a8a5"/><rect x="-9.93" y="14.10" width="11.73" height="13.40" fill="#a7a8a5"/><rect x="1.20" y="14.10" width="11.73" height="13.40" fill="#a7a8a5"/><rect x="12.33" y="14.10" width="11.73" height="13.40" fill="#a7a8a5"/><rect x="23.47" y="14.10" width="11.73" height="13.40" fill="#a7a8a5"/><rect x="34.60" y="14.10" width="11.73" height="13.40" fill="#97a0a6"/><rect x="45.73" y="14.10" width="11.73" height="13.40" fill="#7d8ea4"/><rect x="56.87" y="14.10" width="11.73" height="13.40" fill="#97a0a6"/><rect x="68.00" y="14.10" width="11.73" height="13.40" fill="#61759b"/><rect x="79.13" y="14.10" width="11.73" height="13.40" fill="#32467c"/><rect x="90.27" y="14.10" width="11.73" height="13.40" fill="#32467c"/><rect x="101.40" y="14.10" width="11.73" height="13.40" fill="#32467c"/><rect x="112.53" y="14.10" width="11.73" height="13.40" fill="#293c71"/><rect x="123.67" y="14.10" width="11.73" height="13.40" fill="#475c8c"/><rect x="134.80" y="14.10" width="11.73" height="13.40" fill="#61759b"/><rect x="145.93" y="14.10" width="11.73" height="13.40" fill="#32467c"/><rect x="157.07" y="14.10" width="11.73" height="13.40" fill="#32467c"/><rect x="168.20" y="14.10" width="11.73" height="13.40" fill="#97a0a6"/><rect x="179.33" y="14.10" width="11.73" height="13.40" fill="#61759b"/><rect x="190.47" y="14.10" width="11.73" height="13.40" fill="#7d8ea4"/><rect x="201.60" y="14.10" width="11.73" height="13.40" fill="#a7a8a5"/><rect x="212.73" y="14.10" width="11.73" height="13.40" fill="#a7a8a5"/><rect x="223.87" y="14.10" width="11.73" height="13.40" fill="#a7a8a5"/><rect x="235.00" y="14.10" width="11.73" height="13.40" fill="#a7a8a5"/><rect x="246.13" y="14.10" width="11.73" height="13.40" fill="#97a0a6"/><rect x="257.27" y="14.10" width="11.73" height="13.40" fill="#a7a8a5"/><rect x="268.40" y="14.10" width="11.73" height="13.40" fill="#a7a8a5"/><rect x="-9.93" y="26.90" width="11.73" height="13.40" fill="#a7a8a5"/><rect x="1.20" y="26.90" width="11.73" height="13.40" fill="#a7a8a5"/><rect x="12.33" y="26.90" width="11.73" height="13.40" fill="#a7a8a5"/><rect x="23.47" y="26.90" width="11.73" height="13.40" fill="#a7a8a5"/><rect x="34.60" y="26.90" width="11.73" height="13.40" fill="#a7a8a5"/><rect x="45.73" y="26.90" width="11.73" height="13.40" fill="#97a0a6"/><rect x="56.87" y="26.90" width="11.73" height="13.40" fill="#a7a8a5"/><rect x="68.00" y="26.90" width="11.73" height="13.40" fill="#7d8ea4"/><rect x="79.13" y="26.90" width="11.73" height="13.40" fill="#32467c"/><rect x="90.27" y="26.90" width="11.73" height="13.40" fill="#293c71"/><rect x="101.40" y="26.90" width="11.73" height="13.40" fill="#32467c"/><rect x="112.53" y="26.90" width="11.73" height="13.40" fill="#32467c"/><rect x="123.67" y="26.90" width="11.73" height="13.40" fill="#475c8c"/><rect x="134.80" y="26.90" width="11.73" height="13.40" fill="#61759b"/><rect x="145.93" y="26.90" width="11.73" height="13.40" fill="#32467c"/><rect x="157.07" y="26.90" width="11.73" height="13.40" fill="#293c71"/><rect x="168.20" y="26.90" width="11.73" height="13.40" fill="#7d8ea4"/><rect x="179.33" y="26.90" width="11.73" height="13.40" fill="#475c8c"/><rect x="190.47" y="26.90" width="11.73" height="13.40" fill="#7d8ea4"/><rect x="201.60" y="26.90" width="11.73" height="13.40" fill="#7d8ea4"/><rect x="212.73" y="26.90" width="11.73" height="13.40" fill="#a7a8a5"/><rect x="223.87" y="26.90" width="11.73" height="13.40" fill="#a7a8a5"/><rect x="235.00" y="26.90" width="11.73" height="13.40" fill="#61759b"/><rect x="246.13" y="26.90" width="11.73" height="13.40" fill="#a7a8a5"/><rect x="257.27" y="26.90" width="11.73" height="13.40" fill="#a7a8a5"/><rect x="268.40" y="26.90" width="11.73" height="13.40" fill="#a7a8a5"/><rect x="-9.93" y="39.70" width="11.73" height="13.40" fill="#a7a8a5"/><rect x="1.20" y="39.70" width="11.73" height="13.40" fill="#a7a8a5"/><rect x="12.33" y="39.70" width="11.73" height="13.40" fill="#a7a8a5"/><rect x="23.47" y="39.70" width="11.73" height="13.40" fill="#a7a8a5"/><rect x="34.60" y="39.70" width="11.73" height="13.40" fill="#a7a8a5"/><rect x="45.73" y="39.70" width="11.73" height="13.40" fill="#a7a8a5"/><rect x="56.87" y="39.70" width="11.73" height="13.40" fill="#97a0a6"/><rect x="68.00" y="39.70" width="11.73" height="13.40" fill="#97a0a6"/><rect x="79.13" y="39.70" width="11.73" height="13.40" fill="#61759b"/><rect x="90.27" y="39.70" width="11.73" height="13.40" fill="#293c71"/><rect x="101.40" y="39.70" width="11.73" height="13.40" fill="#475c8c"/><rect x="112.53" y="39.70" width="11.73" height="13.40" fill="#61759b"/><rect x="123.67" y="39.70" width="11.73" height="13.40" fill="#475c8c"/><rect x="134.80" y="39.70" width="11.73" height="13.40" fill="#61759b"/><rect x="145.93" y="39.70" width="11.73" height="13.40" fill="#475c8c"/><rect x="157.07" y="39.70" width="11.73" height="13.40" fill="#293c71"/><rect x="168.20" y="39.70" width="11.73" height="13.40" fill="#32467c"/><rect x="179.33" y="39.70" width="11.73" height="13.40" fill="#32467c"/><rect x="190.47" y="39.70" width="11.73" height="13.40" fill="#475c8c"/><rect x="201.60" y="39.70" width="11.73" height="13.40" fill="#7d8ea4"/><rect x="212.73" y="39.70" width="11.73" height="13.40" fill="#a7a8a5"/><rect x="223.87" y="39.70" width="11.73" height="13.40" fill="#a7a8a5"/><rect x="235.00" y="39.70" width="11.73" height="13.40" fill="#a7a8a5"/><rect x="246.13" y="39.70" width="11.73" height="13.40" fill="#a7a8a5"/><rect x="257.27" y="39.70" width="11.73" height="13.40" fill="#97a0a6"/><rect x="268.40" y="39.70" width="11.73" height="13.40" fill="#97a0a6"/><rect x="-9.93" y="52.50" width="11.73" height="13.40" fill="#97a0a6"/><rect x="1.20" y="52.50" width="11.73" height="13.40" fill="#97a0a6"/><rect x="12.33" y="52.50" width="11.73" height="13.40" fill="#a7a8a5"/><rect x="23.47" y="52.50" width="11.73" height="13.40" fill="#97a0a6"/><rect x="34.60" y="52.50" width="11.73" height="13.40" fill="#97a0a6"/><rect x="45.73" y="52.50" width="11.73" height="13.40" fill="#97a0a6"/><rect x="56.87" y="52.50" width="11.73" height="13.40" fill="#97a0a6"/><rect x="68.00" y="52.50" width="11.73" height="13.40" fill="#7d8ea4"/><rect x="79.13" y="52.50" width="11.73" height="13.40" fill="#97a0a6"/><rect x="90.27" y="52.50" width="11.73" height="13.40" fill="#32467c"/><rect x="101.40" y="52.50" width="11.73" height="13.40" fill="#293c71"/><rect x="112.53" y="52.50" width="11.73" height="13.40" fill="#475c8c"/><rect x="123.67" y="52.50" width="11.73" height="13.40" fill="#61759b"/><rect x="134.80" y="52.50" width="11.73" height="13.40" fill="#7d8ea4"/><rect x="145.93" y="52.50" width="11.73" height="13.40" fill="#97a0a6"/><rect x="157.07" y="52.50" width="11.73" height="13.40" fill="#61759b"/><rect x="168.20" y="52.50" width="11.73" height="13.40" fill="#475c8c"/><rect x="179.33" y="52.50" width="11.73" height="13.40" fill="#61759b"/><rect x="190.47" y="52.50" width="11.73" height="13.40" fill="#61759b"/><rect x="201.60" y="52.50" width="11.73" height="13.40" fill="#7d8ea4"/><rect x="212.73" y="52.50" width="11.73" height="13.40" fill="#97a0a6"/><rect x="223.87" y="52.50" width="11.73" height="13.40" fill="#a7a8a5"/><rect x="235.00" y="52.50" width="11.73" height="13.40" fill="#a7a8a5"/><rect x="246.13" y="52.50" width="11.73" height="13.40" fill="#a7a8a5"/><rect x="257.27" y="52.50" width="11.73" height="13.40" fill="#97a0a6"/><rect x="268.40" y="52.50" width="11.73" height="13.40" fill="#97a0a6"/><rect x="-9.93" y="65.30" width="11.73" height="13.40" fill="#475c8c"/><rect x="1.20" y="65.30" width="11.73" height="13.40" fill="#475c8c"/><rect x="12.33" y="65.30" width="11.73" height="13.40" fill="#61759b"/><rect x="23.47" y="65.30" width="11.73" height="13.40" fill="#97a0a6"/><rect x="34.60" y="65.30" width="11.73" height="13.40" fill="#97a0a6"/><rect x="45.73" y="65.30" width="11.73" height="13.40" fill="#97a0a6"/><rect x="56.87" y="65.30" width="11.73" height="13.40" fill="#97a0a6"/><rect x="68.00" y="65.30" width="11.73" height="13.40" fill="#97a0a6"/><rect x="79.13" y="65.30" width="11.73" height="13.40" fill="#a7a8a5"/><rect x="90.27" y="65.30" width="11.73" height="13.40" fill="#475c8c"/><rect x="101.40" y="65.30" width="11.73" height="13.40" fill="#32467c"/><rect x="112.53" y="65.30" width="11.73" height="13.40" fill="#293c71"/><rect x="123.67" y="65.30" width="11.73" height="13.40" fill="#32467c"/><rect x="134.80" y="65.30" width="11.73" height="13.40" fill="#7d8ea4"/><rect x="145.93" y="65.30" width="11.73" height="13.40" fill="#97a0a6"/><rect x="157.07" y="65.30" width="11.73" height="13.40" fill="#7d8ea4"/><rect x="168.20" y="65.30" width="11.73" height="13.40" fill="#7d8ea4"/><rect x="179.33" y="65.30" width="11.73" height="13.40" fill="#7d8ea4"/><rect x="190.47" y="65.30" width="11.73" height="13.40" fill="#7d8ea4"/><rect x="201.60" y="65.30" width="11.73" height="13.40" fill="#7d8ea4"/><rect x="212.73" y="65.30" width="11.73" height="13.40" fill="#7d8ea4"/><rect x="223.87" y="65.30" width="11.73" height="13.40" fill="#97a0a6"/><rect x="235.00" y="65.30" width="11.73" height="13.40" fill="#97a0a6"/><rect x="246.13" y="65.30" width="11.73" height="13.40" fill="#7d8ea4"/><rect x="257.27" y="65.30" width="11.73" height="13.40" fill="#7d8ea4"/><rect x="268.40" y="65.30" width="11.73" height="13.40" fill="#7d8ea4"/><rect x="-9.93" y="78.10" width="11.73" height="13.40" fill="#475c8c"/><rect x="1.20" y="78.10" width="11.73" height="13.40" fill="#475c8c"/><rect x="12.33" y="78.10" width="11.73" height="13.40" fill="#475c8c"/><rect x="23.47" y="78.10" width="11.73" height="13.40" fill="#7d8ea4"/><rect x="34.60" y="78.10" width="11.73" height="13.40" fill="#97a0a6"/><rect x="45.73" y="78.10" width="11.73" height="13.40" fill="#97a0a6"/><rect x="56.87" y="78.10" width="11.73" height="13.40" fill="#7d8ea4"/><rect x="68.00" y="78.10" width="11.73" height="13.40" fill="#97a0a6"/><rect x="79.13" y="78.10" width="11.73" height="13.40" fill="#97a0a6"/><rect x="90.27" y="78.10" width="11.73" height="13.40" fill="#7d8ea4"/><rect x="101.40" y="78.10" width="11.73" height="13.40" fill="#7d8ea4"/><rect x="112.53" y="78.10" width="11.73" height="13.40" fill="#7d8ea4"/><rect x="123.67" y="78.10" width="11.73" height="13.40" fill="#a7a8a5"/><rect x="134.80" y="78.10" width="11.73" height="13.40" fill="#a7a8a5"/><rect x="145.93" y="78.10" width="11.73" height="13.40" fill="#97a0a6"/><rect x="157.07" y="78.10" width="11.73" height="13.40" fill="#97a0a6"/><rect x="168.20" y="78.10" width="11.73" height="13.40" fill="#97a0a6"/><rect x="179.33" y="78.10" width="11.73" height="13.40" fill="#7d8ea4"/><rect x="190.47" y="78.10" width="11.73" height="13.40" fill="#475c8c"/><rect x="201.60" y="78.10" width="11.73" height="13.40" fill="#61759b"/><rect x="212.73" y="78.10" width="11.73" height="13.40" fill="#7d8ea4"/><rect x="223.87" y="78.10" width="11.73" height="13.40" fill="#97a0a6"/><rect x="235.00" y="78.10" width="11.73" height="13.40" fill="#7d8ea4"/><rect x="246.13" y="78.10" width="11.73" height="13.40" fill="#61759b"/><rect x="257.27" y="78.10" width="11.73" height="13.40" fill="#61759b"/><rect x="268.40" y="78.10" width="11.73" height="13.40" fill="#61759b"/><rect x="-9.93" y="90.90" width="11.73" height="13.40" fill="#475c8c"/><rect x="1.20" y="90.90" width="11.73" height="13.40" fill="#475c8c"/><rect x="12.33" y="90.90" width="11.73" height="13.40" fill="#475c8c"/><rect x="23.47" y="90.90" width="11.73" height="13.40" fill="#61759b"/><rect x="34.60" y="90.90" width="11.73" height="13.40" fill="#7d8ea4"/><rect x="45.73" y="90.90" width="11.73" height="13.40" fill="#97a0a6"/><rect x="56.87" y="90.90" width="11.73" height="13.40" fill="#7d8ea4"/><rect x="68.00" y="90.90" width="11.73" height="13.40" fill="#7d8ea4"/><rect x="79.13" y="90.90" width="11.73" height="13.40" fill="#97a0a6"/><rect x="90.27" y="90.90" width="11.73" height="13.40" fill="#61759b"/><rect x="101.40" y="90.90" width="11.73" height="13.40" fill="#7d8ea4"/><rect x="112.53" y="90.90" width="11.73" height="13.40" fill="#97a0a6"/><rect x="123.67" y="90.90" width="11.73" height="13.40" fill="#a7a8a5"/><rect x="134.80" y="90.90" width="11.73" height="13.40" fill="#a7a8a5"/><rect x="145.93" y="90.90" width="11.73" height="13.40" fill="#a7a8a5"/><rect x="157.07" y="90.90" width="11.73" height="13.40" fill="#97a0a6"/><rect x="168.20" y="90.90" width="11.73" height="13.40" fill="#a7a8a5"/><rect x="179.33" y="90.90" width="11.73" height="13.40" fill="#61759b"/><rect x="190.47" y="90.90" width="11.73" height="13.40" fill="#475c8c"/><rect x="201.60" y="90.90" width="11.73" height="13.40" fill="#61759b"/><rect x="212.73" y="90.90" width="11.73" height="13.40" fill="#7d8ea4"/><rect x="223.87" y="90.90" width="11.73" height="13.40" fill="#97a0a6"/><rect x="235.00" y="90.90" width="11.73" height="13.40" fill="#7d8ea4"/><rect x="246.13" y="90.90" width="11.73" height="13.40" fill="#61759b"/><rect x="257.27" y="90.90" width="11.73" height="13.40" fill="#61759b"/><rect x="268.40" y="90.90" width="11.73" height="13.40" fill="#61759b"/><rect x="-9.93" y="103.70" width="11.73" height="13.40" fill="#475c8c"/><rect x="1.20" y="103.70" width="11.73" height="13.40" fill="#475c8c"/><rect x="12.33" y="103.70" width="11.73" height="13.40" fill="#475c8c"/><rect x="23.47" y="103.70" width="11.73" height="13.40" fill="#61759b"/><rect x="34.60" y="103.70" width="11.73" height="13.40" fill="#7d8ea4"/><rect x="45.73" y="103.70" width="11.73" height="13.40" fill="#97a0a6"/><rect x="56.87" y="103.70" width="11.73" height="13.40" fill="#7d8ea4"/><rect x="68.00" y="103.70" width="11.73" height="13.40" fill="#7d8ea4"/><rect x="79.13" y="103.70" width="11.73" height="13.40" fill="#97a0a6"/><rect x="90.27" y="103.70" width="11.73" height="13.40" fill="#61759b"/><rect x="101.40" y="103.70" width="11.73" height="13.40" fill="#7d8ea4"/><rect x="112.53" y="103.70" width="11.73" height="13.40" fill="#97a0a6"/><rect x="123.67" y="103.70" width="11.73" height="13.40" fill="#a7a8a5"/><rect x="134.80" y="103.70" width="11.73" height="13.40" fill="#a7a8a5"/><rect x="145.93" y="103.70" width="11.73" height="13.40" fill="#a7a8a5"/><rect x="157.07" y="103.70" width="11.73" height="13.40" fill="#97a0a6"/><rect x="168.20" y="103.70" width="11.73" height="13.40" fill="#a7a8a5"/><rect x="179.33" y="103.70" width="11.73" height="13.40" fill="#61759b"/><rect x="190.47" y="103.70" width="11.73" height="13.40" fill="#475c8c"/><rect x="201.60" y="103.70" width="11.73" height="13.40" fill="#61759b"/><rect x="212.73" y="103.70" width="11.73" height="13.40" fill="#7d8ea4"/><rect x="223.87" y="103.70" width="11.73" height="13.40" fill="#97a0a6"/><rect x="235.00" y="103.70" width="11.73" height="13.40" fill="#7d8ea4"/><rect x="246.13" y="103.70" width="11.73" height="13.40" fill="#61759b"/><rect x="257.27" y="103.70" width="11.73" height="13.40" fill="#61759b"/><rect x="268.40" y="103.70" width="11.73" height="13.40" fill="#61759b"/></g><path d="M73.5,14.7 L80,11 L88.2,9.2 L100,7.5 L110.3,7.4 L120,8.5 L128.7,9.2 L140,10 L147,11 L161.8,12.9 L165.4,22 L154.4,29.4 L147,40.4 L139.7,47.8 L136,58.8 L130.5,69.9 L125,77.2 L114,75.4 L106.6,73.5 L99.3,69.9 L91.9,58.8 L84.6,47.8 L77.2,36.8 L71.7,25.7 Z" fill="#2a3c72" opacity="0.9" filter="url(#b3)"/><ellipse cx="113" cy="45.5" rx="7" ry="4.5" fill="#546992" opacity="0.7" filter="url(#b3)"/><ellipse cx="107" cy="13" rx="5" ry="4" fill="#546992" opacity="0.6" filter="url(#b3)"/><ellipse cx="120" cy="44" rx="1.2" ry="1.2" fill="#bdbbb2" opacity="0.9"/><ellipse cx="150" cy="30" rx="10" ry="10" fill="#25366c" opacity="0.85" filter="url(#b3)"/><ellipse cx="158" cy="46" rx="10" ry="9" fill="#25366c" opacity="0.8" filter="url(#b3)"/><ellipse cx="180" cy="38.5" rx="7.5" ry="5.5" fill="#25366c" opacity="0.9" filter="url(#b2)"/><ellipse cx="174" cy="55" rx="8" ry="7" fill="#25366c" opacity="0.75" filter="url(#b3)"/><ellipse cx="163" cy="64" rx="5" ry="5" fill="#25366c" opacity="0.6" filter="url(#b2)"/><ellipse cx="146" cy="10" rx="14" ry="5" fill="#25366c" opacity="0.6" filter="url(#b3)"/><ellipse cx="204" cy="87" rx="15" ry="11" fill="#2a3c72" opacity="0.7" filter="url(#b5)"/><ellipse cx="18" cy="90" rx="20" ry="14" fill="#475c8c" opacity="0.5" filter="url(#b6)"/><ellipse cx="246" cy="30.5" rx="3.5" ry="3.2" fill="#25366c" opacity="0.9" filter="url(#b1)"/><ellipse cx="196.4" cy="6.6" rx="3" ry="1.8" fill="#25366c" opacity="0.8" filter="url(#b1)"/><ellipse cx="64.7" cy="66.4" rx="3" ry="3" fill="#25366c" opacity="0.9" filter="url(#b1)"/><ellipse cx="84" cy="56" rx="1.8" ry="1.8" fill="#25366c" opacity="0.9"/><ellipse cx="231" cy="69" rx="1.5" ry="1.5" fill="#25366c" opacity="0.8"/><line x1="52.8" y1="36" x2="52.8" y2="73" stroke="#393944" stroke-width="0.7" opacity="0.7"/><line x1="39.5" y1="37" x2="39.5" y2="55" stroke="#55555a" stroke-width="0.7" opacity="0.5"/><rect x="0" y="0" width="270" height="106" filter="url(#noise)" opacity="0.4"/><rect x="0" y="0" width="270" height="106" filter="url(#noiseD)" opacity="0.20800000000000002"/></g>
<rect x="46.15" y="241.10" width="267.50" height="102.90" fill="none" stroke="#17202b" stroke-width="1.6"/>
<line x1="46.15" y1="236.40" x2="46.15" y2="240.70" stroke="#222" stroke-width="1"/>
<line x1="46.15" y1="344.40" x2="46.15" y2="348.20" stroke="#222" stroke-width="1"/>
<text transform="translate(46.15 232.40) scale(0.93 1)" font-size="9.9" text-anchor="middle" fill="#1d1d1f" >180<tspan font-weight="bold">°</tspan></text>
<text transform="translate(46.15 359.60) scale(0.93 1)" font-size="9.9" text-anchor="middle" fill="#1d1d1f" >180<tspan font-weight="bold">°</tspan></text>
<line x1="90.73" y1="236.40" x2="90.73" y2="240.70" stroke="#222" stroke-width="1"/>
<line x1="90.73" y1="344.40" x2="90.73" y2="348.20" stroke="#222" stroke-width="1"/>
<text transform="translate(90.73 232.40) scale(0.93 1)" font-size="9.9" text-anchor="middle" fill="#1d1d1f" >120<tspan font-weight="bold">°</tspan>W</text>
<text transform="translate(90.73 359.60) scale(0.93 1)" font-size="9.9" text-anchor="middle" fill="#1d1d1f" >120<tspan font-weight="bold">°</tspan>W</text>
<line x1="135.32" y1="236.40" x2="135.32" y2="240.70" stroke="#222" stroke-width="1"/>
<line x1="135.32" y1="344.40" x2="135.32" y2="348.20" stroke="#222" stroke-width="1"/>
<text transform="translate(135.32 232.40) scale(0.93 1)" font-size="9.9" text-anchor="middle" fill="#1d1d1f" >60<tspan font-weight="bold">°</tspan>W</text>
<text transform="translate(135.32 359.60) scale(0.93 1)" font-size="9.9" text-anchor="middle" fill="#1d1d1f" >60<tspan font-weight="bold">°</tspan>W</text>
<line x1="179.90" y1="236.40" x2="179.90" y2="240.70" stroke="#222" stroke-width="1"/>
<line x1="179.90" y1="344.40" x2="179.90" y2="348.20" stroke="#222" stroke-width="1"/>
<text transform="translate(179.90 232.40) scale(0.93 1)" font-size="9.9" text-anchor="middle" fill="#1d1d1f" >0<tspan font-weight="bold">°</tspan></text>
<text transform="translate(179.90 359.60) scale(0.93 1)" font-size="9.9" text-anchor="middle" fill="#1d1d1f" >0<tspan font-weight="bold">°</tspan></text>
<line x1="224.48" y1="236.40" x2="224.48" y2="240.70" stroke="#222" stroke-width="1"/>
<line x1="224.48" y1="344.40" x2="224.48" y2="348.20" stroke="#222" stroke-width="1"/>
<text transform="translate(224.48 232.40) scale(0.93 1)" font-size="9.9" text-anchor="middle" fill="#1d1d1f" >60<tspan font-weight="bold">°</tspan>E</text>
<text transform="translate(224.48 359.60) scale(0.93 1)" font-size="9.9" text-anchor="middle" fill="#1d1d1f" >60<tspan font-weight="bold">°</tspan>E</text>
<line x1="269.07" y1="236.40" x2="269.07" y2="240.70" stroke="#222" stroke-width="1"/>
<line x1="269.07" y1="344.40" x2="269.07" y2="348.20" stroke="#222" stroke-width="1"/>
<text transform="translate(269.07 232.40) scale(0.93 1)" font-size="9.9" text-anchor="middle" fill="#1d1d1f" >120<tspan font-weight="bold">°</tspan>E</text>
<text transform="translate(269.07 359.60) scale(0.93 1)" font-size="9.9" text-anchor="middle" fill="#1d1d1f" >120<tspan font-weight="bold">°</tspan>E</text>
<line x1="313.65" y1="236.40" x2="313.65" y2="240.70" stroke="#222" stroke-width="1"/>
<line x1="313.65" y1="344.40" x2="313.65" y2="348.20" stroke="#222" stroke-width="1"/>
<text transform="translate(313.65 232.40) scale(0.93 1)" font-size="9.9" text-anchor="middle" fill="#1d1d1f" >180<tspan font-weight="bold">°</tspan></text>
<text transform="translate(313.65 359.60) scale(0.93 1)" font-size="9.9" text-anchor="middle" fill="#1d1d1f" >180<tspan font-weight="bold">°</tspan></text>
<line x1="41.60" y1="245.30" x2="45.90" y2="245.30" stroke="#222" stroke-width="1"/>
<line x1="313.90" y1="245.30" x2="318.20" y2="245.30" stroke="#222" stroke-width="1"/>
<text transform="translate(36.90 248.60) scale(0.93 1)" font-size="9.9" text-anchor="end" fill="#1d1d1f" >60<tspan font-weight="bold">°</tspan>N</text>
<text transform="translate(321.90 248.60) scale(0.93 1)" font-size="9.9" text-anchor="start" fill="#1d1d1f" >60<tspan font-weight="bold">°</tspan>N</text>
<line x1="41.60" y1="268.95" x2="45.90" y2="268.95" stroke="#222" stroke-width="1"/>
<line x1="313.90" y1="268.95" x2="318.20" y2="268.95" stroke="#222" stroke-width="1"/>
<text transform="translate(36.90 272.25) scale(0.93 1)" font-size="9.9" text-anchor="end" fill="#1d1d1f" >30<tspan font-weight="bold">°</tspan>N</text>
<text transform="translate(321.90 272.25) scale(0.93 1)" font-size="9.9" text-anchor="start" fill="#1d1d1f" >30<tspan font-weight="bold">°</tspan>N</text>
<line x1="41.60" y1="292.60" x2="45.90" y2="292.60" stroke="#222" stroke-width="1"/>
<line x1="313.90" y1="292.60" x2="318.20" y2="292.60" stroke="#222" stroke-width="1"/>
<text transform="translate(36.90 295.90) scale(0.93 1)" font-size="9.9" text-anchor="end" fill="#1d1d1f" >0<tspan font-weight="bold">°</tspan></text>
<text transform="translate(321.90 295.90) scale(0.93 1)" font-size="9.9" text-anchor="start" fill="#1d1d1f" >0<tspan font-weight="bold">°</tspan></text>
<line x1="41.60" y1="316.25" x2="45.90" y2="316.25" stroke="#222" stroke-width="1"/>
<line x1="313.90" y1="316.25" x2="318.20" y2="316.25" stroke="#222" stroke-width="1"/>
<text transform="translate(36.90 319.55) scale(0.93 1)" font-size="9.9" text-anchor="end" fill="#1d1d1f" >30<tspan font-weight="bold">°</tspan>S</text>
<text transform="translate(321.90 319.55) scale(0.93 1)" font-size="9.9" text-anchor="start" fill="#1d1d1f" >30<tspan font-weight="bold">°</tspan>S</text>
<line x1="41.60" y1="339.90" x2="45.90" y2="339.90" stroke="#222" stroke-width="1"/>
<line x1="313.90" y1="339.90" x2="318.20" y2="339.90" stroke="#222" stroke-width="1"/>
<text transform="translate(36.90 343.20) scale(0.93 1)" font-size="9.9" text-anchor="end" fill="#1d1d1f" >60<tspan font-weight="bold">°</tspan>S</text>
<text transform="translate(321.90 343.20) scale(0.93 1)" font-size="9.9" text-anchor="start" fill="#1d1d1f" >60<tspan font-weight="bold">°</tspan>S</text>
<g transform="translate(414.90,240.30)" clip-path="url(#mclip)"><rect x="0" y="0" width="270" height="106" fill="#8d99a9"/><g filter="url(#gb4)" opacity="1.0"><rect x="-9.93" y="-11.50" width="11.73" height="13.40" fill="#475d87"/><rect x="1.20" y="-11.50" width="11.73" height="13.40" fill="#475d87"/><rect x="12.33" y="-11.50" width="11.73" height="13.40" fill="#4a6289"/><rect x="23.47" y="-11.50" width="11.73" height="13.40" fill="#5c7091"/><rect x="34.60" y="-11.50" width="11.73" height="13.40" fill="#707e99"/><rect x="45.73" y="-11.50" width="11.73" height="13.40" fill="#566c8e"/><rect x="56.87" y="-11.50" width="11.73" height="13.40" fill="#717f9b"/><rect x="68.00" y="-11.50" width="11.73" height="13.40" fill="#9ea4af"/><rect x="79.13" y="-11.50" width="11.73" height="13.40" fill="#b4b2b7"/><rect x="90.27" y="-11.50" width="11.73" height="13.40" fill="#b4b2b7"/><rect x="101.40" y="-11.50" width="11.73" height="13.40" fill="#b8b4b9"/><rect x="112.53" y="-11.50" width="11.73" height="13.40" fill="#b9b6bb"/><rect x="123.67" y="-11.50" width="11.73" height="13.40" fill="#b6b3b7"/><rect x="134.80" y="-11.50" width="11.73" height="13.40" fill="#b4b2b7"/><rect x="145.93" y="-11.50" width="11.73" height="13.40" fill="#adafb7"/><rect x="157.07" y="-11.50" width="11.73" height="13.40" fill="#b4b2b7"/><rect x="168.20" y="-11.50" width="11.73" height="13.40" fill="#78869d"/><rect x="179.33" y="-11.50" width="11.73" height="13.40" fill="#78869d"/><rect x="190.47" y="-11.50" width="11.73" height="13.40" fill="#909aa7"/><rect x="201.60" y="-11.50" width="11.73" height="13.40" fill="#5c7091"/><rect x="212.73" y="-11.50" width="11.73" height="13.40" fill="#475d87"/><rect x="223.87" y="-11.50" width="11.73" height="13.40" fill="#667996"/><rect x="235.00" y="-11.50" width="11.73" height="13.40" fill="#8692a4"/><rect x="246.13" y="-11.50" width="11.73" height="13.40" fill="#78869d"/><rect x="257.27" y="-11.50" width="11.73" height="13.40" fill="#566c8e"/><rect x="268.40" y="-11.50" width="11.73" height="13.40" fill="#566c8e"/><rect x="-9.93" y="1.30" width="11.73" height="13.40" fill="#475d87"/><rect x="1.20" y="1.30" width="11.73" height="13.40" fill="#475d87"/><rect x="12.33" y="1.30" width="11.73" height="13.40" fill="#4a6289"/><rect x="23.47" y="1.30" width="11.73" height="13.40" fill="#5c7091"/><rect x="34.60" y="1.30" width="11.73" height="13.40" fill="#707e99"/><rect x="45.73" y="1.30" width="11.73" height="13.40" fill="#566c8e"/><rect x="56.87" y="1.30" width="11.73" height="13.40" fill="#717f9b"/><rect x="68.00" y="1.30" width="11.73" height="13.40" fill="#9ea4af"/><rect x="79.13" y="1.30" width="11.73" height="13.40" fill="#b4b2b7"/><rect x="90.27" y="1.30" width="11.73" height="13.40" fill="#b4b2b7"/><rect x="101.40" y="1.30" width="11.73" height="13.40" fill="#b8b4b9"/><rect x="112.53" y="1.30" width="11.73" height="13.40" fill="#b9b6bb"/><rect x="123.67" y="1.30" width="11.73" height="13.40" fill="#b6b3b7"/><rect x="134.80" y="1.30" width="11.73" height="13.40" fill="#b4b2b7"/><rect x="145.93" y="1.30" width="11.73" height="13.40" fill="#adafb7"/><rect x="157.07" y="1.30" width="11.73" height="13.40" fill="#b4b2b7"/><rect x="168.20" y="1.30" width="11.73" height="13.40" fill="#78869d"/><rect x="179.33" y="1.30" width="11.73" height="13.40" fill="#78869d"/><rect x="190.47" y="1.30" width="11.73" height="13.40" fill="#909aa7"/><rect x="201.60" y="1.30" width="11.73" height="13.40" fill="#5c7091"/><rect x="212.73" y="1.30" width="11.73" height="13.40" fill="#475d87"/><rect x="223.87" y="1.30" width="11.73" height="13.40" fill="#667996"/><rect x="235.00" y="1.30" width="11.73" height="13.40" fill="#8692a4"/><rect x="246.13" y="1.30" width="11.73" height="13.40" fill="#78869d"/><rect x="257.27" y="1.30" width="11.73" height="13.40" fill="#566c8e"/><rect x="268.40" y="1.30" width="11.73" height="13.40" fill="#566c8e"/><rect x="-9.93" y="14.10" width="11.73" height="13.40" fill="#3d5484"/><rect x="1.20" y="14.10" width="11.73" height="13.40" fill="#3d5484"/><rect x="12.33" y="14.10" width="11.73" height="13.40" fill="#395082"/><rect x="23.47" y="14.10" width="11.73" height="13.40" fill="#465c87"/><rect x="34.60" y="14.10" width="11.73" height="13.40" fill="#677795"/><rect x="45.73" y="14.10" width="11.73" height="13.40" fill="#78859c"/><rect x="56.87" y="14.10" width="11.73" height="13.40" fill="#6a7c97"/><rect x="68.00" y="14.10" width="11.73" height="13.40" fill="#adafb0"/><rect x="79.13" y="14.10" width="11.73" height="13.40" fill="#9ea7a5"/><rect x="90.27" y="14.10" width="11.73" height="13.40" fill="#a5aba8"/><rect x="101.40" y="14.10" width="11.73" height="13.40" fill="#a5aba8"/><rect x="112.53" y="14.10" width="11.73" height="13.40" fill="#9ea5a3"/><rect x="123.67" y="14.10" width="11.73" height="13.40" fill="#b1b1b4"/><rect x="134.80" y="14.10" width="11.73" height="13.40" fill="#a9abb0"/><rect x="145.93" y="14.10" width="11.73" height="13.40" fill="#9ea5a5"/><rect x="157.07" y="14.10" width="11.73" height="13.40" fill="#adafb2"/><rect x="168.20" y="14.10" width="11.73" height="13.40" fill="#667996"/><rect x="179.33" y="14.10" width="11.73" height="13.40" fill="#667996"/><rect x="190.47" y="14.10" width="11.73" height="13.40" fill="#566c8e"/><rect x="201.60" y="14.10" width="11.73" height="13.40" fill="#475d87"/><rect x="212.73" y="14.10" width="11.73" height="13.40" fill="#435885"/><rect x="223.87" y="14.10" width="11.73" height="13.40" fill="#566c8e"/><rect x="235.00" y="14.10" width="11.73" height="13.40" fill="#6c7d99"/><rect x="246.13" y="14.10" width="11.73" height="13.40" fill="#667996"/><rect x="257.27" y="14.10" width="11.73" height="13.40" fill="#475d87"/><rect x="268.40" y="14.10" width="11.73" height="13.40" fill="#475d87"/><rect x="-9.93" y="26.90" width="11.73" height="13.40" fill="#415885"/><rect x="1.20" y="26.90" width="11.73" height="13.40" fill="#415885"/><rect x="12.33" y="26.90" width="11.73" height="13.40" fill="#3d5484"/><rect x="23.47" y="26.90" width="11.73" height="13.40" fill="#435885"/><rect x="34.60" y="26.90" width="11.73" height="13.40" fill="#475d87"/><rect x="45.73" y="26.90" width="11.73" height="13.40" fill="#566a8e"/><rect x="56.87" y="26.90" width="11.73" height="13.40" fill="#76839b"/><rect x="68.00" y="26.90" width="11.73" height="13.40" fill="#a5a9ac"/><rect x="79.13" y="26.90" width="11.73" height="13.40" fill="#9aa3a1"/><rect x="90.27" y="26.90" width="11.73" height="13.40" fill="#9aa3a1"/><rect x="101.40" y="26.90" width="11.73" height="13.40" fill="#a9adad"/><rect x="112.53" y="26.90" width="11.73" height="13.40" fill="#9ea5a3"/><rect x="123.67" y="26.90" width="11.73" height="13.40" fill="#adafb2"/><rect x="134.80" y="26.90" width="11.73" height="13.40" fill="#a5abad"/><rect x="145.93" y="26.90" width="11.73" height="13.40" fill="#9ea5a3"/><rect x="157.07" y="26.90" width="11.73" height="13.40" fill="#a0a7a5"/><rect x="168.20" y="26.90" width="11.73" height="13.40" fill="#9ea4ac"/><rect x="179.33" y="26.90" width="11.73" height="13.40" fill="#9ea4af"/><rect x="190.47" y="26.90" width="11.73" height="13.40" fill="#8992a4"/><rect x="201.60" y="26.90" width="11.73" height="13.40" fill="#9096a7"/><rect x="212.73" y="26.90" width="11.73" height="13.40" fill="#4d608a"/><rect x="223.87" y="26.90" width="11.73" height="13.40" fill="#435885"/><rect x="235.00" y="26.90" width="11.73" height="13.40" fill="#566c8e"/><rect x="246.13" y="26.90" width="11.73" height="13.40" fill="#475d87"/><rect x="257.27" y="26.90" width="11.73" height="13.40" fill="#475d87"/><rect x="268.40" y="26.90" width="11.73" height="13.40" fill="#475d87"/><rect x="-9.93" y="39.70" width="11.73" height="13.40" fill="#465c87"/><rect x="1.20" y="39.70" width="11.73" height="13.40" fill="#465c87"/><rect x="12.33" y="39.70" width="11.73" height="13.40" fill="#3e5583"/><rect x="23.47" y="39.70" width="11.73" height="13.40" fill="#3d5484"/><rect x="34.60" y="39.70" width="11.73" height="13.40" fill="#4d608a"/><rect x="45.73" y="39.70" width="11.73" height="13.40" fill="#435885"/><rect x="56.87" y="39.70" width="11.73" height="13.40" fill="#465c87"/><rect x="68.00" y="39.70" width="11.73" height="13.40" fill="#79879e"/><rect x="79.13" y="39.70" width="11.73" height="13.40" fill="#adafb2"/><rect x="90.27" y="39.70" width="11.73" height="13.40" fill="#9aa3a1"/><rect x="101.40" y="39.70" width="11.73" height="13.40" fill="#a5aba8"/><rect x="112.53" y="39.70" width="11.73" height="13.40" fill="#adafb0"/><rect x="123.67" y="39.70" width="11.73" height="13.40" fill="#b4b2b6"/><rect x="134.80" y="39.70" width="11.73" height="13.40" fill="#9ea4a4"/><rect x="145.93" y="39.70" width="11.73" height="13.40" fill="#9ea4a4"/><rect x="157.07" y="39.70" width="11.73" height="13.40" fill="#9ea5a3"/><rect x="168.20" y="39.70" width="11.73" height="13.40" fill="#9ea5a5"/><rect x="179.33" y="39.70" width="11.73" height="13.40" fill="#adafb4"/><rect x="190.47" y="39.70" width="11.73" height="13.40" fill="#a5a7b3"/><rect x="201.60" y="39.70" width="11.73" height="13.40" fill="#8992a4"/><rect x="212.73" y="39.70" width="11.73" height="13.40" fill="#475d87"/><rect x="223.87" y="39.70" width="11.73" height="13.40" fill="#3d5484"/><rect x="235.00" y="39.70" width="11.73" height="13.40" fill="#475d87"/><rect x="246.13" y="39.70" width="11.73" height="13.40" fill="#435885"/><rect x="257.27" y="39.70" width="11.73" height="13.40" fill="#4d608a"/><rect x="268.40" y="39.70" width="11.73" height="13.40" fill="#4d608a"/><rect x="-9.93" y="52.50" width="11.73" height="13.40" fill="#566a8e"/><rect x="1.20" y="52.50" width="11.73" height="13.40" fill="#566a8e"/><rect x="12.33" y="52.50" width="11.73" height="13.40" fill="#465c87"/><rect x="23.47" y="52.50" width="11.73" height="13.40" fill="#566c8e"/><rect x="34.60" y="52.50" width="11.73" height="13.40" fill="#5c7091"/><rect x="45.73" y="52.50" width="11.73" height="13.40" fill="#465c87"/><rect x="56.87" y="52.50" width="11.73" height="13.40" fill="#465c87"/><rect x="68.00" y="52.50" width="11.73" height="13.40" fill="#79879e"/><rect x="79.13" y="52.50" width="11.73" height="13.40" fill="#9ea4af"/><rect x="90.27" y="52.50" width="11.73" height="13.40" fill="#a5a9ac"/><rect x="101.40" y="52.50" width="11.73" height="13.40" fill="#9ea5a5"/><rect x="112.53" y="52.50" width="11.73" height="13.40" fill="#a5a9aa"/><rect x="123.67" y="52.50" width="11.73" height="13.40" fill="#a5abb0"/><rect x="134.80" y="52.50" width="11.73" height="13.40" fill="#78869d"/><rect x="145.93" y="52.50" width="11.73" height="13.40" fill="#adafb4"/><rect x="157.07" y="52.50" width="11.73" height="13.40" fill="#adafb4"/><rect x="168.20" y="52.50" width="11.73" height="13.40" fill="#b1b1b6"/><rect x="179.33" y="52.50" width="11.73" height="13.40" fill="#adafb5"/><rect x="190.47" y="52.50" width="11.73" height="13.40" fill="#9ea4af"/><rect x="201.60" y="52.50" width="11.73" height="13.40" fill="#9ea4af"/><rect x="212.73" y="52.50" width="11.73" height="13.40" fill="#5c7091"/><rect x="223.87" y="52.50" width="11.73" height="13.40" fill="#475d87"/><rect x="235.00" y="52.50" width="11.73" height="13.40" fill="#566c8e"/><rect x="246.13" y="52.50" width="11.73" height="13.40" fill="#4d608a"/><rect x="257.27" y="52.50" width="11.73" height="13.40" fill="#566c8e"/><rect x="268.40" y="52.50" width="11.73" height="13.40" fill="#566c8e"/><rect x="-9.93" y="65.30" width="11.73" height="13.40" fill="#b4b1b7"/><rect x="1.20" y="65.30" width="11.73" height="13.40" fill="#b4b1b7"/><rect x="12.33" y="65.30" width="11.73" height="13.40" fill="#9e9faf"/><rect x="23.47" y="65.30" width="11.73" height="13.40" fill="#566c8e"/><rect x="34.60" y="65.30" width="11.73" height="13.40" fill="#677795"/><rect x="45.73" y="65.30" width="11.73" height="13.40" fill="#435885"/><rect x="56.87" y="65.30" width="11.73" height="13.40" fill="#566a8e"/><rect x="68.00" y="65.30" width="11.73" height="13.40" fill="#5c7091"/><rect x="79.13" y="65.30" width="11.73" height="13.40" fill="#79879e"/><rect x="90.27" y="65.30" width="11.73" height="13.40" fill="#667996"/><rect x="101.40" y="65.30" width="11.73" height="13.40" fill="#adafb4"/><rect x="112.53" y="65.30" width="11.73" height="13.40" fill="#b4b2b7"/><rect x="123.67" y="65.30" width="11.73" height="13.40" fill="#667996"/><rect x="134.80" y="65.30" width="11.73" height="13.40" fill="#566c8e"/><rect x="145.93" y="65.30" width="11.73" height="13.40" fill="#78869d"/><rect x="157.07" y="65.30" width="11.73" height="13.40" fill="#a5a9b3"/><rect x="168.20" y="65.30" width="11.73" height="13.40" fill="#9098a7"/><rect x="179.33" y="65.30" width="11.73" height="13.40" fill="#78869d"/><rect x="190.47" y="65.30" width="11.73" height="13.40" fill="#9098a7"/><rect x="201.60" y="65.30" width="11.73" height="13.40" fill="#8791a4"/><rect x="212.73" y="65.30" width="11.73" height="13.40" fill="#78869d"/><rect x="223.87" y="65.30" width="11.73" height="13.40" fill="#5c7091"/><rect x="235.00" y="65.30" width="11.73" height="13.40" fill="#6c7d99"/><rect x="246.13" y="65.30" width="11.73" height="13.40" fill="#9098a7"/><rect x="257.27" y="65.30" width="11.73" height="13.40" fill="#a5a9b3"/><rect x="268.40" y="65.30" width="11.73" height="13.40" fill="#a5a9b3"/><rect x="-9.93" y="78.10" width="11.73" height="13.40" fill="#b8b4b9"/><rect x="1.20" y="78.10" width="11.73" height="13.40" fill="#b8b4b9"/><rect x="12.33" y="78.10" width="11.73" height="13.40" fill="#b4b1b7"/><rect x="23.47" y="78.10" width="11.73" height="13.40" fill="#8891a4"/><rect x="34.60" y="78.10" width="11.73" height="13.40" fill="#677595"/><rect x="45.73" y="78.10" width="11.73" height="13.40" fill="#78859c"/><rect x="56.87" y="78.10" width="11.73" height="13.40" fill="#677795"/><rect x="68.00" y="78.10" width="11.73" height="13.40" fill="#8992a4"/><rect x="79.13" y="78.10" width="11.73" height="13.40" fill="#78859c"/><rect x="90.27" y="78.10" width="11.73" height="13.40" fill="#9ea4af"/><rect x="101.40" y="78.10" width="11.73" height="13.40" fill="#78869d"/><rect x="112.53" y="78.10" width="11.73" height="13.40" fill="#475d87"/><rect x="123.67" y="78.10" width="11.73" height="13.40" fill="#435885"/><rect x="134.80" y="78.10" width="11.73" height="13.40" fill="#667996"/><rect x="145.93" y="78.10" width="11.73" height="13.40" fill="#8992a4"/><rect x="157.07" y="78.10" width="11.73" height="13.40" fill="#adafb5"/><rect x="168.20" y="78.10" width="11.73" height="13.40" fill="#78869d"/><rect x="179.33" y="78.10" width="11.73" height="13.40" fill="#8992a4"/><rect x="190.47" y="78.10" width="11.73" height="13.40" fill="#a5a9b3"/><rect x="201.60" y="78.10" width="11.73" height="13.40" fill="#78869d"/><rect x="212.73" y="78.10" width="11.73" height="13.40" fill="#9098a7"/><rect x="223.87" y="78.10" width="11.73" height="13.40" fill="#78869d"/><rect x="235.00" y="78.10" width="11.73" height="13.40" fill="#5c7091"/><rect x="246.13" y="78.10" width="11.73" height="13.40" fill="#a5a9b3"/><rect x="257.27" y="78.10" width="11.73" height="13.40" fill="#b4b2b7"/><rect x="268.40" y="78.10" width="11.73" height="13.40" fill="#b4b2b7"/><rect x="-9.93" y="90.90" width="11.73" height="13.40" fill="#b8b4b9"/><rect x="1.20" y="90.90" width="11.73" height="13.40" fill="#b8b4b9"/><rect x="12.33" y="90.90" width="11.73" height="13.40" fill="#b8b4b9"/><rect x="23.47" y="90.90" width="11.73" height="13.40" fill="#adadb5"/><rect x="34.60" y="90.90" width="11.73" height="13.40" fill="#76839b"/><rect x="45.73" y="90.90" width="11.73" height="13.40" fill="#8992a4"/><rect x="56.87" y="90.90" width="11.73" height="13.40" fill="#78859c"/><rect x="68.00" y="90.90" width="11.73" height="13.40" fill="#566c8e"/><rect x="79.13" y="90.90" width="11.73" height="13.40" fill="#465c87"/><rect x="90.27" y="90.90" width="11.73" height="13.40" fill="#9ea4af"/><rect x="101.40" y="90.90" width="11.73" height="13.40" fill="#566c8e"/><rect x="112.53" y="90.90" width="11.73" height="13.40" fill="#435885"/><rect x="123.67" y="90.90" width="11.73" height="13.40" fill="#475d87"/><rect x="134.80" y="90.90" width="11.73" height="13.40" fill="#566c8e"/><rect x="145.93" y="90.90" width="11.73" height="13.40" fill="#78869d"/><rect x="157.07" y="90.90" width="11.73" height="13.40" fill="#667996"/><rect x="168.20" y="90.90" width="11.73" height="13.40" fill="#667996"/><rect x="179.33" y="90.90" width="11.73" height="13.40" fill="#78869d"/><rect x="190.47" y="90.90" width="11.73" height="13.40" fill="#adafb5"/><rect x="201.60" y="90.90" width="11.73" height="13.40" fill="#9ea4af"/><rect x="212.73" y="90.90" width="11.73" height="13.40" fill="#8992a4"/><rect x="223.87" y="90.90" width="11.73" height="13.40" fill="#78869d"/><rect x="235.00" y="90.90" width="11.73" height="13.40" fill="#9098a7"/><rect x="246.13" y="90.90" width="11.73" height="13.40" fill="#adafb5"/><rect x="257.27" y="90.90" width="11.73" height="13.40" fill="#b8b4b9"/><rect x="268.40" y="90.90" width="11.73" height="13.40" fill="#b8b4b9"/><rect x="-9.93" y="103.70" width="11.73" height="13.40" fill="#b8b4b9"/><rect x="1.20" y="103.70" width="11.73" height="13.40" fill="#b8b4b9"/><rect x="12.33" y="103.70" width="11.73" height="13.40" fill="#b8b4b9"/><rect x="23.47" y="103.70" width="11.73" height="13.40" fill="#adadb5"/><rect x="34.60" y="103.70" width="11.73" height="13.40" fill="#76839b"/><rect x="45.73" y="103.70" width="11.73" height="13.40" fill="#8992a4"/><rect x="56.87" y="103.70" width="11.73" height="13.40" fill="#78859c"/><rect x="68.00" y="103.70" width="11.73" height="13.40" fill="#566c8e"/><rect x="79.13" y="103.70" width="11.73" height="13.40" fill="#465c87"/><rect x="90.27" y="103.70" width="11.73" height="13.40" fill="#9ea4af"/><rect x="101.40" y="103.70" width="11.73" height="13.40" fill="#566c8e"/><rect x="112.53" y="103.70" width="11.73" height="13.40" fill="#435885"/><rect x="123.67" y="103.70" width="11.73" height="13.40" fill="#475d87"/><rect x="134.80" y="103.70" width="11.73" height="13.40" fill="#566c8e"/><rect x="145.93" y="103.70" width="11.73" height="13.40" fill="#78869d"/><rect x="157.07" y="103.70" width="11.73" height="13.40" fill="#667996"/><rect x="168.20" y="103.70" width="11.73" height="13.40" fill="#667996"/><rect x="179.33" y="103.70" width="11.73" height="13.40" fill="#78869d"/><rect x="190.47" y="103.70" width="11.73" height="13.40" fill="#adafb5"/><rect x="201.60" y="103.70" width="11.73" height="13.40" fill="#9ea4af"/><rect x="212.73" y="103.70" width="11.73" height="13.40" fill="#8992a4"/><rect x="223.87" y="103.70" width="11.73" height="13.40" fill="#78869d"/><rect x="235.00" y="103.70" width="11.73" height="13.40" fill="#9098a7"/><rect x="246.13" y="103.70" width="11.73" height="13.40" fill="#adafb5"/><rect x="257.27" y="103.70" width="11.73" height="13.40" fill="#b8b4b9"/><rect x="268.40" y="103.70" width="11.73" height="13.40" fill="#b8b4b9"/></g><path d="M84,16 L100,14 L112,18 L120,22 L121,34 L116,44 L112,56 L104,62 L94,60 L88,50 L84,38 L80,26 Z" fill="#8d9c99" opacity="0.6" filter="url(#b4)"/><path d="M142,24 L156,22 L168,26 L173,38 L170,52 L160,58 L150,56 L143,46 L140,34 Z" fill="#8d9c99" opacity="0.75" filter="url(#b4)"/><ellipse cx="245.5" cy="30" rx="3.5" ry="3.5" fill="#b6b4b3" opacity="0.85" filter="url(#b1)"/><ellipse cx="195.5" cy="6.8" rx="5" ry="2.2" fill="#bdbabd" opacity="0.85" filter="url(#b1)"/><ellipse cx="64" cy="68" rx="3.5" ry="3.5" fill="#afafb2" opacity="0.7" filter="url(#b1)"/><rect x="0" y="0" width="270" height="106" filter="url(#noise)" opacity="0.4"/><rect x="0" y="0" width="270" height="106" filter="url(#noiseD)" opacity="0.20800000000000002"/></g>
<rect x="416.05" y="241.10" width="267.50" height="102.90" fill="none" stroke="#17202b" stroke-width="1.6"/>
<line x1="416.05" y1="236.40" x2="416.05" y2="240.70" stroke="#222" stroke-width="1"/>
<line x1="416.05" y1="344.40" x2="416.05" y2="348.20" stroke="#222" stroke-width="1"/>
<text transform="translate(416.05 232.40) scale(0.93 1)" font-size="9.9" text-anchor="middle" fill="#1d1d1f" >180<tspan font-weight="bold">°</tspan></text>
<text transform="translate(416.05 359.60) scale(0.93 1)" font-size="9.9" text-anchor="middle" fill="#1d1d1f" >180<tspan font-weight="bold">°</tspan></text>
<line x1="460.63" y1="236.40" x2="460.63" y2="240.70" stroke="#222" stroke-width="1"/>
<line x1="460.63" y1="344.40" x2="460.63" y2="348.20" stroke="#222" stroke-width="1"/>
<text transform="translate(460.63 232.40) scale(0.93 1)" font-size="9.9" text-anchor="middle" fill="#1d1d1f" >120<tspan font-weight="bold">°</tspan>W</text>
<text transform="translate(460.63 359.60) scale(0.93 1)" font-size="9.9" text-anchor="middle" fill="#1d1d1f" >120<tspan font-weight="bold">°</tspan>W</text>
<line x1="505.22" y1="236.40" x2="505.22" y2="240.70" stroke="#222" stroke-width="1"/>
<line x1="505.22" y1="344.40" x2="505.22" y2="348.20" stroke="#222" stroke-width="1"/>
<text transform="translate(505.22 232.40) scale(0.93 1)" font-size="9.9" text-anchor="middle" fill="#1d1d1f" >60<tspan font-weight="bold">°</tspan>W</text>
<text transform="translate(505.22 359.60) scale(0.93 1)" font-size="9.9" text-anchor="middle" fill="#1d1d1f" >60<tspan font-weight="bold">°</tspan>W</text>
<line x1="549.80" y1="236.40" x2="549.80" y2="240.70" stroke="#222" stroke-width="1"/>
<line x1="549.80" y1="344.40" x2="549.80" y2="348.20" stroke="#222" stroke-width="1"/>
<text transform="translate(549.80 232.40) scale(0.93 1)" font-size="9.9" text-anchor="middle" fill="#1d1d1f" >0<tspan font-weight="bold">°</tspan></text>
<text transform="translate(549.80 359.60) scale(0.93 1)" font-size="9.9" text-anchor="middle" fill="#1d1d1f" >0<tspan font-weight="bold">°</tspan></text>
<line x1="594.38" y1="236.40" x2="594.38" y2="240.70" stroke="#222" stroke-width="1"/>
<line x1="594.38" y1="344.40" x2="594.38" y2="348.20" stroke="#222" stroke-width="1"/>
<text transform="translate(594.38 232.40) scale(0.93 1)" font-size="9.9" text-anchor="middle" fill="#1d1d1f" >60<tspan font-weight="bold">°</tspan>E</text>
<text transform="translate(594.38 359.60) scale(0.93 1)" font-size="9.9" text-anchor="middle" fill="#1d1d1f" >60<tspan font-weight="bold">°</tspan>E</text>
<line x1="638.97" y1="236.40" x2="638.97" y2="240.70" stroke="#222" stroke-width="1"/>
<line x1="638.97" y1="344.40" x2="638.97" y2="348.20" stroke="#222" stroke-width="1"/>
<text transform="translate(638.97 232.40) scale(0.93 1)" font-size="9.9" text-anchor="middle" fill="#1d1d1f" >120<tspan font-weight="bold">°</tspan>E</text>
<text transform="translate(638.97 359.60) scale(0.93 1)" font-size="9.9" text-anchor="middle" fill="#1d1d1f" >120<tspan font-weight="bold">°</tspan>E</text>
<line x1="683.55" y1="236.40" x2="683.55" y2="240.70" stroke="#222" stroke-width="1"/>
<line x1="683.55" y1="344.40" x2="683.55" y2="348.20" stroke="#222" stroke-width="1"/>
<text transform="translate(683.55 232.40) scale(0.93 1)" font-size="9.9" text-anchor="middle" fill="#1d1d1f" >180<tspan font-weight="bold">°</tspan></text>
<text transform="translate(683.55 359.60) scale(0.93 1)" font-size="9.9" text-anchor="middle" fill="#1d1d1f" >180<tspan font-weight="bold">°</tspan></text>
<line x1="411.50" y1="245.30" x2="415.80" y2="245.30" stroke="#222" stroke-width="1"/>
<line x1="683.80" y1="245.30" x2="688.10" y2="245.30" stroke="#222" stroke-width="1"/>
<text transform="translate(406.80 248.60) scale(0.93 1)" font-size="9.9" text-anchor="end" fill="#1d1d1f" >60<tspan font-weight="bold">°</tspan>N</text>
<text transform="translate(691.80 248.60) scale(0.93 1)" font-size="9.9" text-anchor="start" fill="#1d1d1f" >60<tspan font-weight="bold">°</tspan>N</text>
<line x1="411.50" y1="268.95" x2="415.80" y2="268.95" stroke="#222" stroke-width="1"/>
<line x1="683.80" y1="268.95" x2="688.10" y2="268.95" stroke="#222" stroke-width="1"/>
<text transform="translate(406.80 272.25) scale(0.93 1)" font-size="9.9" text-anchor="end" fill="#1d1d1f" >30<tspan font-weight="bold">°</tspan>N</text>
<text transform="translate(691.80 272.25) scale(0.93 1)" font-size="9.9" text-anchor="start" fill="#1d1d1f" >30<tspan font-weight="bold">°</tspan>N</text>
<line x1="411.50" y1="292.60" x2="415.80" y2="292.60" stroke="#222" stroke-width="1"/>
<line x1="683.80" y1="292.60" x2="688.10" y2="292.60" stroke="#222" stroke-width="1"/>
<text transform="translate(406.80 295.90) scale(0.93 1)" font-size="9.9" text-anchor="end" fill="#1d1d1f" >0<tspan font-weight="bold">°</tspan></text>
<text transform="translate(691.80 295.90) scale(0.93 1)" font-size="9.9" text-anchor="start" fill="#1d1d1f" >0<tspan font-weight="bold">°</tspan></text>
<line x1="411.50" y1="316.25" x2="415.80" y2="316.25" stroke="#222" stroke-width="1"/>
<line x1="683.80" y1="316.25" x2="688.10" y2="316.25" stroke="#222" stroke-width="1"/>
<text transform="translate(406.80 319.55) scale(0.93 1)" font-size="9.9" text-anchor="end" fill="#1d1d1f" >30<tspan font-weight="bold">°</tspan>S</text>
<text transform="translate(691.80 319.55) scale(0.93 1)" font-size="9.9" text-anchor="start" fill="#1d1d1f" >30<tspan font-weight="bold">°</tspan>S</text>
<line x1="411.50" y1="339.90" x2="415.80" y2="339.90" stroke="#222" stroke-width="1"/>
<line x1="683.80" y1="339.90" x2="688.10" y2="339.90" stroke="#222" stroke-width="1"/>
<text transform="translate(406.80 343.20) scale(0.93 1)" font-size="9.9" text-anchor="end" fill="#1d1d1f" >60<tspan font-weight="bold">°</tspan>S</text>
<text transform="translate(691.80 343.20) scale(0.93 1)" font-size="9.9" text-anchor="start" fill="#1d1d1f" >60<tspan font-weight="bold">°</tspan>S</text>
<g transform="translate(45.00,447.50)" clip-path="url(#mclip)"><rect x="0" y="0" width="270" height="106" fill="#9ca2a4"/><g filter="url(#gb4)" opacity="1.0"><rect x="-9.93" y="-11.50" width="11.73" height="13.40" fill="#a5a6a3"/><rect x="1.20" y="-11.50" width="11.73" height="13.40" fill="#a5a6a3"/><rect x="12.33" y="-11.50" width="11.73" height="13.40" fill="#a5a6a3"/><rect x="23.47" y="-11.50" width="11.73" height="13.40" fill="#a5a6a3"/><rect x="34.60" y="-11.50" width="11.73" height="13.40" fill="#949ea6"/><rect x="45.73" y="-11.50" width="11.73" height="13.40" fill="#949ea6"/><rect x="56.87" y="-11.50" width="11.73" height="13.40" fill="#949ea6"/><rect x="68.00" y="-11.50" width="11.73" height="13.40" fill="#7d8ea4"/><rect x="79.13" y="-11.50" width="11.73" height="13.40" fill="#62779d"/><rect x="90.27" y="-11.50" width="11.73" height="13.40" fill="#7d8ea4"/><rect x="101.40" y="-11.50" width="11.73" height="13.40" fill="#4b6390"/><rect x="112.53" y="-11.50" width="11.73" height="13.40" fill="#4b6390"/><rect x="123.67" y="-11.50" width="11.73" height="13.40" fill="#4b6390"/><rect x="134.80" y="-11.50" width="11.73" height="13.40" fill="#7d8ea4"/><rect x="145.93" y="-11.50" width="11.73" height="13.40" fill="#62779d"/><rect x="157.07" y="-11.50" width="11.73" height="13.40" fill="#7d8ea4"/><rect x="168.20" y="-11.50" width="11.73" height="13.40" fill="#949ea6"/><rect x="179.33" y="-11.50" width="11.73" height="13.40" fill="#62779d"/><rect x="190.47" y="-11.50" width="11.73" height="13.40" fill="#7d8ea4"/><rect x="201.60" y="-11.50" width="11.73" height="13.40" fill="#a5a6a3"/><rect x="212.73" y="-11.50" width="11.73" height="13.40" fill="#a5a6a3"/><rect x="223.87" y="-11.50" width="11.73" height="13.40" fill="#a5a6a3"/><rect x="235.00" y="-11.50" width="11.73" height="13.40" fill="#949ea6"/><rect x="246.13" y="-11.50" width="11.73" height="13.40" fill="#949ea6"/><rect x="257.27" y="-11.50" width="11.73" height="13.40" fill="#a5a6a3"/><rect x="268.40" y="-11.50" width="11.73" height="13.40" fill="#a5a6a3"/><rect x="-9.93" y="1.30" width="11.73" height="13.40" fill="#a5a6a3"/><rect x="1.20" y="1.30" width="11.73" height="13.40" fill="#a5a6a3"/><rect x="12.33" y="1.30" width="11.73" height="13.40" fill="#a5a6a3"/><rect x="23.47" y="1.30" width="11.73" height="13.40" fill="#a5a6a3"/><rect x="34.60" y="1.30" width="11.73" height="13.40" fill="#949ea6"/><rect x="45.73" y="1.30" width="11.73" height="13.40" fill="#949ea6"/><rect x="56.87" y="1.30" width="11.73" height="13.40" fill="#949ea6"/><rect x="68.00" y="1.30" width="11.73" height="13.40" fill="#7d8ea4"/><rect x="79.13" y="1.30" width="11.73" height="13.40" fill="#62779d"/><rect x="90.27" y="1.30" width="11.73" height="13.40" fill="#7d8ea4"/><rect x="101.40" y="1.30" width="11.73" height="13.40" fill="#4b6390"/><rect x="112.53" y="1.30" width="11.73" height="13.40" fill="#4b6390"/><rect x="123.67" y="1.30" width="11.73" height="13.40" fill="#4b6390"/><rect x="134.80" y="1.30" width="11.73" height="13.40" fill="#7d8ea4"/><rect x="145.93" y="1.30" width="11.73" height="13.40" fill="#62779d"/><rect x="157.07" y="1.30" width="11.73" height="13.40" fill="#7d8ea4"/><rect x="168.20" y="1.30" width="11.73" height="13.40" fill="#949ea6"/><rect x="179.33" y="1.30" width="11.73" height="13.40" fill="#62779d"/><rect x="190.47" y="1.30" width="11.73" height="13.40" fill="#7d8ea4"/><rect x="201.60" y="1.30" width="11.73" height="13.40" fill="#a5a6a3"/><rect x="212.73" y="1.30" width="11.73" height="13.40" fill="#a5a6a3"/><rect x="223.87" y="1.30" width="11.73" height="13.40" fill="#a5a6a3"/><rect x="235.00" y="1.30" width="11.73" height="13.40" fill="#949ea6"/><rect x="246.13" y="1.30" width="11.73" height="13.40" fill="#949ea6"/><rect x="257.27" y="1.30" width="11.73" height="13.40" fill="#a5a6a3"/><rect x="268.40" y="1.30" width="11.73" height="13.40" fill="#a5a6a3"/><rect x="-9.93" y="14.10" width="11.73" height="13.40" fill="#a5a6a3"/><rect x="1.20" y="14.10" width="11.73" height="13.40" fill="#a5a6a3"/><rect x="12.33" y="14.10" width="11.73" height="13.40" fill="#a5a6a3"/><rect x="23.47" y="14.10" width="11.73" height="13.40" fill="#a5a6a3"/><rect x="34.60" y="14.10" width="11.73" height="13.40" fill="#949ea6"/><rect x="45.73" y="14.10" width="11.73" height="13.40" fill="#7d8ea4"/><rect x="56.87" y="14.10" width="11.73" height="13.40" fill="#949ea6"/><rect x="68.00" y="14.10" width="11.73" height="13.40" fill="#949ea6"/><rect x="79.13" y="14.10" width="11.73" height="13.40" fill="#3e5788"/><rect x="90.27" y="14.10" width="11.73" height="13.40" fill="#3e5788"/><rect x="101.40" y="14.10" width="11.73" height="13.40" fill="#3e5788"/><rect x="112.53" y="14.10" width="11.73" height="13.40" fill="#3e5788"/><rect x="123.67" y="14.10" width="11.73" height="13.40" fill="#3e5788"/><rect x="134.80" y="14.10" width="11.73" height="13.40" fill="#62779d"/><rect x="145.93" y="14.10" width="11.73" height="13.40" fill="#3e5788"/><rect x="157.07" y="14.10" width="11.73" height="13.40" fill="#4b6390"/><rect x="168.20" y="14.10" width="11.73" height="13.40" fill="#949ea6"/><rect x="179.33" y="14.10" width="11.73" height="13.40" fill="#4b6390"/><rect x="190.47" y="14.10" width="11.73" height="13.40" fill="#62779d"/><rect x="201.60" y="14.10" width="11.73" height="13.40" fill="#a5a6a3"/><rect x="212.73" y="14.10" width="11.73" height="13.40" fill="#a5a6a3"/><rect x="223.87" y="14.10" width="11.73" height="13.40" fill="#a5a6a3"/><rect x="235.00" y="14.10" width="11.73" height="13.40" fill="#949ea6"/><rect x="246.13" y="14.10" width="11.73" height="13.40" fill="#949ea6"/><rect x="257.27" y="14.10" width="11.73" height="13.40" fill="#a5a6a3"/><rect x="268.40" y="14.10" width="11.73" height="13.40" fill="#a5a6a3"/><rect x="-9.93" y="26.90" width="11.73" height="13.40" fill="#a5a6a3"/><rect x="1.20" y="26.90" width="11.73" height="13.40" fill="#a5a6a3"/><rect x="12.33" y="26.90" width="11.73" height="13.40" fill="#a5a6a3"/><rect x="23.47" y="26.90" width="11.73" height="13.40" fill="#a5a6a3"/><rect x="34.60" y="26.90" width="11.73" height="13.40" fill="#a5a6a3"/><rect x="45.73" y="26.90" width="11.73" height="13.40" fill="#949ea6"/><rect x="56.87" y="26.90" width="11.73" height="13.40" fill="#949ea6"/><rect x="68.00" y="26.90" width="11.73" height="13.40" fill="#7d8ea4"/><rect x="79.13" y="26.90" width="11.73" height="13.40" fill="#3e5788"/><rect x="90.27" y="26.90" width="11.73" height="13.40" fill="#3e5788"/><rect x="101.40" y="26.90" width="11.73" height="13.40" fill="#3e5788"/><rect x="112.53" y="26.90" width="11.73" height="13.40" fill="#3e5788"/><rect x="123.67" y="26.90" width="11.73" height="13.40" fill="#3e5788"/><rect x="134.80" y="26.90" width="11.73" height="13.40" fill="#3e5788"/><rect x="145.93" y="26.90" width="11.73" height="13.40" fill="#3e5788"/><rect x="157.07" y="26.90" width="11.73" height="13.40" fill="#62779d"/><rect x="168.20" y="26.90" width="11.73" height="13.40" fill="#7d8ea4"/><rect x="179.33" y="26.90" width="11.73" height="13.40" fill="#3e5788"/><rect x="190.47" y="26.90" width="11.73" height="13.40" fill="#4b6390"/><rect x="201.60" y="26.90" width="11.73" height="13.40" fill="#7d8ea4"/><rect x="212.73" y="26.90" width="11.73" height="13.40" fill="#a5a6a3"/><rect x="223.87" y="26.90" width="11.73" height="13.40" fill="#a5a6a3"/><rect x="235.00" y="26.90" width="11.73" height="13.40" fill="#4b6390"/><rect x="246.13" y="26.90" width="11.73" height="13.40" fill="#949ea6"/><rect x="257.27" y="26.90" width="11.73" height="13.40" fill="#a5a6a3"/><rect x="268.40" y="26.90" width="11.73" height="13.40" fill="#a5a6a3"/><rect x="-9.93" y="39.70" width="11.73" height="13.40" fill="#a5a6a3"/><rect x="1.20" y="39.70" width="11.73" height="13.40" fill="#a5a6a3"/><rect x="12.33" y="39.70" width="11.73" height="13.40" fill="#a5a6a3"/><rect x="23.47" y="39.70" width="11.73" height="13.40" fill="#a5a6a3"/><rect x="34.60" y="39.70" width="11.73" height="13.40" fill="#a5a6a3"/><rect x="45.73" y="39.70" width="11.73" height="13.40" fill="#a5a6a3"/><rect x="56.87" y="39.70" width="11.73" height="13.40" fill="#949ea6"/><rect x="68.00" y="39.70" width="11.73" height="13.40" fill="#949ea6"/><rect x="79.13" y="39.70" width="11.73" height="13.40" fill="#4b6390"/><rect x="90.27" y="39.70" width="11.73" height="13.40" fill="#3e5788"/><rect x="101.40" y="39.70" width="11.73" height="13.40" fill="#3e5788"/><rect x="112.53" y="39.70" width="11.73" height="13.40" fill="#3e5788"/><rect x="123.67" y="39.70" width="11.73" height="13.40" fill="#3e5788"/><rect x="134.80" y="39.70" width="11.73" height="13.40" fill="#3e5788"/><rect x="145.93" y="39.70" width="11.73" height="13.40" fill="#3e5788"/><rect x="157.07" y="39.70" width="11.73" height="13.40" fill="#3e5788"/><rect x="168.20" y="39.70" width="11.73" height="13.40" fill="#62779d"/><rect x="179.33" y="39.70" width="11.73" height="13.40" fill="#3e5788"/><rect x="190.47" y="39.70" width="11.73" height="13.40" fill="#3e5788"/><rect x="201.60" y="39.70" width="11.73" height="13.40" fill="#7d8ea4"/><rect x="212.73" y="39.70" width="11.73" height="13.40" fill="#949ea6"/><rect x="223.87" y="39.70" width="11.73" height="13.40" fill="#a5a6a3"/><rect x="235.00" y="39.70" width="11.73" height="13.40" fill="#a5a6a3"/><rect x="246.13" y="39.70" width="11.73" height="13.40" fill="#a5a6a3"/><rect x="257.27" y="39.70" width="11.73" height="13.40" fill="#949ea6"/><rect x="268.40" y="39.70" width="11.73" height="13.40" fill="#949ea6"/><rect x="-9.93" y="52.50" width="11.73" height="13.40" fill="#a5a6a3"/><rect x="1.20" y="52.50" width="11.73" height="13.40" fill="#a5a6a3"/><rect x="12.33" y="52.50" width="11.73" height="13.40" fill="#a5a6a3"/><rect x="23.47" y="52.50" width="11.73" height="13.40" fill="#a5a6a3"/><rect x="34.60" y="52.50" width="11.73" height="13.40" fill="#949ea6"/><rect x="45.73" y="52.50" width="11.73" height="13.40" fill="#949ea6"/><rect x="56.87" y="52.50" width="11.73" height="13.40" fill="#949ea6"/><rect x="68.00" y="52.50" width="11.73" height="13.40" fill="#949ea6"/><rect x="79.13" y="52.50" width="11.73" height="13.40" fill="#7d8ea4"/><rect x="90.27" y="52.50" width="11.73" height="13.40" fill="#3e5788"/><rect x="101.40" y="52.50" width="11.73" height="13.40" fill="#3e5788"/><rect x="112.53" y="52.50" width="11.73" height="13.40" fill="#3e5788"/><rect x="123.67" y="52.50" width="11.73" height="13.40" fill="#3e5788"/><rect x="134.80" y="52.50" width="11.73" height="13.40" fill="#62779d"/><rect x="145.93" y="52.50" width="11.73" height="13.40" fill="#3e5788"/><rect x="157.07" y="52.50" width="11.73" height="13.40" fill="#3e5788"/><rect x="168.20" y="52.50" width="11.73" height="13.40" fill="#3e5788"/><rect x="179.33" y="52.50" width="11.73" height="13.40" fill="#4b6390"/><rect x="190.47" y="52.50" width="11.73" height="13.40" fill="#62779d"/><rect x="201.60" y="52.50" width="11.73" height="13.40" fill="#7d8ea4"/><rect x="212.73" y="52.50" width="11.73" height="13.40" fill="#949ea6"/><rect x="223.87" y="52.50" width="11.73" height="13.40" fill="#a5a6a3"/><rect x="235.00" y="52.50" width="11.73" height="13.40" fill="#949ea6"/><rect x="246.13" y="52.50" width="11.73" height="13.40" fill="#949ea6"/><rect x="257.27" y="52.50" width="11.73" height="13.40" fill="#949ea6"/><rect x="268.40" y="52.50" width="11.73" height="13.40" fill="#949ea6"/><rect x="-9.93" y="65.30" width="11.73" height="13.40" fill="#4b6390"/><rect x="1.20" y="65.30" width="11.73" height="13.40" fill="#4b6390"/><rect x="12.33" y="65.30" width="11.73" height="13.40" fill="#62779d"/><rect x="23.47" y="65.30" width="11.73" height="13.40" fill="#949ea6"/><rect x="34.60" y="65.30" width="11.73" height="13.40" fill="#949ea6"/><rect x="45.73" y="65.30" width="11.73" height="13.40" fill="#949ea6"/><rect x="56.87" y="65.30" width="11.73" height="13.40" fill="#4b6390"/><rect x="68.00" y="65.30" width="11.73" height="13.40" fill="#949ea6"/><rect x="79.13" y="65.30" width="11.73" height="13.40" fill="#949ea6"/><rect x="90.27" y="65.30" width="11.73" height="13.40" fill="#3e5788"/><rect x="101.40" y="65.30" width="11.73" height="13.40" fill="#3e5788"/><rect x="112.53" y="65.30" width="11.73" height="13.40" fill="#3e5788"/><rect x="123.67" y="65.30" width="11.73" height="13.40" fill="#62779d"/><rect x="134.80" y="65.30" width="11.73" height="13.40" fill="#7d8ea4"/><rect x="145.93" y="65.30" width="11.73" height="13.40" fill="#62779d"/><rect x="157.07" y="65.30" width="11.73" height="13.40" fill="#3e5788"/><rect x="168.20" y="65.30" width="11.73" height="13.40" fill="#62779d"/><rect x="179.33" y="65.30" width="11.73" height="13.40" fill="#7d8ea4"/><rect x="190.47" y="65.30" width="11.73" height="13.40" fill="#62779d"/><rect x="201.60" y="65.30" width="11.73" height="13.40" fill="#7d8ea4"/><rect x="212.73" y="65.30" width="11.73" height="13.40" fill="#949ea6"/><rect x="223.87" y="65.30" width="11.73" height="13.40" fill="#949ea6"/><rect x="235.00" y="65.30" width="11.73" height="13.40" fill="#949ea6"/><rect x="246.13" y="65.30" width="11.73" height="13.40" fill="#7d8ea4"/><rect x="257.27" y="65.30" width="11.73" height="13.40" fill="#7d8ea4"/><rect x="268.40" y="65.30" width="11.73" height="13.40" fill="#7d8ea4"/><rect x="-9.93" y="78.10" width="11.73" height="13.40" fill="#3e5788"/><rect x="1.20" y="78.10" width="11.73" height="13.40" fill="#3e5788"/><rect x="12.33" y="78.10" width="11.73" height="13.40" fill="#3e5788"/><rect x="23.47" y="78.10" width="11.73" height="13.40" fill="#7d8ea4"/><rect x="34.60" y="78.10" width="11.73" height="13.40" fill="#949ea6"/><rect x="45.73" y="78.10" width="11.73" height="13.40" fill="#949ea6"/><rect x="56.87" y="78.10" width="11.73" height="13.40" fill="#949ea6"/><rect x="68.00" y="78.10" width="11.73" height="13.40" fill="#949ea6"/><rect x="79.13" y="78.10" width="11.73" height="13.40" fill="#949ea6"/><rect x="90.27" y="78.10" width="11.73" height="13.40" fill="#62779d"/><rect x="101.40" y="78.10" width="11.73" height="13.40" fill="#3e5788"/><rect x="112.53" y="78.10" width="11.73" height="13.40" fill="#62779d"/><rect x="123.67" y="78.10" width="11.73" height="13.40" fill="#7d8ea4"/><rect x="134.80" y="78.10" width="11.73" height="13.40" fill="#949ea6"/><rect x="145.93" y="78.10" width="11.73" height="13.40" fill="#949ea6"/><rect x="157.07" y="78.10" width="11.73" height="13.40" fill="#7d8ea4"/><rect x="168.20" y="78.10" width="11.73" height="13.40" fill="#7d8ea4"/><rect x="179.33" y="78.10" width="11.73" height="13.40" fill="#62779d"/><rect x="190.47" y="78.10" width="11.73" height="13.40" fill="#3e5788"/><rect x="201.60" y="78.10" width="11.73" height="13.40" fill="#62779d"/><rect x="212.73" y="78.10" width="11.73" height="13.40" fill="#7d8ea4"/><rect x="223.87" y="78.10" width="11.73" height="13.40" fill="#949ea6"/><rect x="235.00" y="78.10" width="11.73" height="13.40" fill="#7d8ea4"/><rect x="246.13" y="78.10" width="11.73" height="13.40" fill="#62779d"/><rect x="257.27" y="78.10" width="11.73" height="13.40" fill="#62779d"/><rect x="268.40" y="78.10" width="11.73" height="13.40" fill="#62779d"/><rect x="-9.93" y="90.90" width="11.73" height="13.40" fill="#3e5788"/><rect x="1.20" y="90.90" width="11.73" height="13.40" fill="#3e5788"/><rect x="12.33" y="90.90" width="11.73" height="13.40" fill="#3e5788"/><rect x="23.47" y="90.90" width="11.73" height="13.40" fill="#62779d"/><rect x="34.60" y="90.90" width="11.73" height="13.40" fill="#949ea6"/><rect x="45.73" y="90.90" width="11.73" height="13.40" fill="#949ea6"/><rect x="56.87" y="90.90" width="11.73" height="13.40" fill="#949ea6"/><rect x="68.00" y="90.90" width="11.73" height="13.40" fill="#949ea6"/><rect x="79.13" y="90.90" width="11.73" height="13.40" fill="#949ea6"/><rect x="90.27" y="90.90" width="11.73" height="13.40" fill="#62779d"/><rect x="101.40" y="90.90" width="11.73" height="13.40" fill="#7d8ea4"/><rect x="112.53" y="90.90" width="11.73" height="13.40" fill="#949ea6"/><rect x="123.67" y="90.90" width="11.73" height="13.40" fill="#a5a6a3"/><rect x="134.80" y="90.90" width="11.73" height="13.40" fill="#a5a6a3"/><rect x="145.93" y="90.90" width="11.73" height="13.40" fill="#a5a6a3"/><rect x="157.07" y="90.90" width="11.73" height="13.40" fill="#949ea6"/><rect x="168.20" y="90.90" width="11.73" height="13.40" fill="#949ea6"/><rect x="179.33" y="90.90" width="11.73" height="13.40" fill="#62779d"/><rect x="190.47" y="90.90" width="11.73" height="13.40" fill="#3e5788"/><rect x="201.60" y="90.90" width="11.73" height="13.40" fill="#62779d"/><rect x="212.73" y="90.90" width="11.73" height="13.40" fill="#7d8ea4"/><rect x="223.87" y="90.90" width="11.73" height="13.40" fill="#949ea6"/><rect x="235.00" y="90.90" width="11.73" height="13.40" fill="#7d8ea4"/><rect x="246.13" y="90.90" width="11.73" height="13.40" fill="#62779d"/><rect x="257.27" y="90.90" width="11.73" height="13.40" fill="#3e5788"/><rect x="268.40" y="90.90" width="11.73" height="13.40" fill="#3e5788"/><rect x="-9.93" y="103.70" width="11.73" height="13.40" fill="#3e5788"/><rect x="1.20" y="103.70" width="11.73" height="13.40" fill="#3e5788"/><rect x="12.33" y="103.70" width="11.73" height="13.40" fill="#3e5788"/><rect x="23.47" y="103.70" width="11.73" height="13.40" fill="#62779d"/><rect x="34.60" y="103.70" width="11.73" height="13.40" fill="#949ea6"/><rect x="45.73" y="103.70" width="11.73" height="13.40" fill="#949ea6"/><rect x="56.87" y="103.70" width="11.73" height="13.40" fill="#949ea6"/><rect x="68.00" y="103.70" width="11.73" height="13.40" fill="#949ea6"/><rect x="79.13" y="103.70" width="11.73" height="13.40" fill="#949ea6"/><rect x="90.27" y="103.70" width="11.73" height="13.40" fill="#62779d"/><rect x="101.40" y="103.70" width="11.73" height="13.40" fill="#7d8ea4"/><rect x="112.53" y="103.70" width="11.73" height="13.40" fill="#949ea6"/><rect x="123.67" y="103.70" width="11.73" height="13.40" fill="#a5a6a3"/><rect x="134.80" y="103.70" width="11.73" height="13.40" fill="#a5a6a3"/><rect x="145.93" y="103.70" width="11.73" height="13.40" fill="#a5a6a3"/><rect x="157.07" y="103.70" width="11.73" height="13.40" fill="#949ea6"/><rect x="168.20" y="103.70" width="11.73" height="13.40" fill="#949ea6"/><rect x="179.33" y="103.70" width="11.73" height="13.40" fill="#62779d"/><rect x="190.47" y="103.70" width="11.73" height="13.40" fill="#3e5788"/><rect x="201.60" y="103.70" width="11.73" height="13.40" fill="#62779d"/><rect x="212.73" y="103.70" width="11.73" height="13.40" fill="#7d8ea4"/><rect x="223.87" y="103.70" width="11.73" height="13.40" fill="#949ea6"/><rect x="235.00" y="103.70" width="11.73" height="13.40" fill="#7d8ea4"/><rect x="246.13" y="103.70" width="11.73" height="13.40" fill="#62779d"/><rect x="257.27" y="103.70" width="11.73" height="13.40" fill="#3e5788"/><rect x="268.40" y="103.70" width="11.73" height="13.40" fill="#3e5788"/></g><path d="M73.5,12 L80,8 L88.2,6 L100,5 L110.3,5 L120,5 L128.7,6 L140,6 L150,6 L160,8 L165,14 L163,24 L168,34 L176,44 L180,60 L170,66 L160,64 L150,62 L140,60 L132,68 L125,77 L114,76 L106.6,74 L99.3,70 L91.9,60 L84.6,48 L77.2,37 L71.7,25 Z" fill="#3f5889" opacity="0.75" filter="url(#b4)"/><ellipse cx="120" cy="44" rx="1.2" ry="1.2" fill="#bdbbb2" opacity="0.9"/><ellipse cx="149" cy="30" rx="8" ry="8" fill="#334b80" opacity="0.5" filter="url(#b3)"/><ellipse cx="180" cy="38.5" rx="7" ry="5.5" fill="#334b80" opacity="0.8" filter="url(#b2)"/><ellipse cx="157" cy="48" rx="8" ry="7" fill="#334b80" opacity="0.35" filter="url(#b3)"/><ellipse cx="200" cy="88" rx="12" ry="9" fill="#3b5388" opacity="0.6" filter="url(#b5)"/><ellipse cx="246" cy="31" rx="3.5" ry="3.2" fill="#384f84" opacity="0.9" filter="url(#b1)"/><ellipse cx="196.4" cy="6.6" rx="3" ry="1.8" fill="#384f84" opacity="0.8" filter="url(#b1)"/><ellipse cx="64.7" cy="66.4" rx="3" ry="3" fill="#384f84" opacity="0.9" filter="url(#b1)"/><ellipse cx="84" cy="56" rx="1.8" ry="1.8" fill="#384f84" opacity="0.9"/><ellipse cx="231" cy="69" rx="1.5" ry="1.5" fill="#384f84" opacity="0.8"/><line x1="52.8" y1="36" x2="52.8" y2="73" stroke="#393944" stroke-width="0.7" opacity="0.7"/><line x1="39.5" y1="37" x2="39.5" y2="55" stroke="#55555a" stroke-width="0.7" opacity="0.5"/><rect x="0" y="0" width="270" height="106" filter="url(#noise)" opacity="0.4"/><rect x="0" y="0" width="270" height="106" filter="url(#noiseD)" opacity="0.20800000000000002"/></g>
<rect x="46.15" y="448.30" width="267.50" height="102.90" fill="none" stroke="#17202b" stroke-width="1.6"/>
<line x1="46.15" y1="443.60" x2="46.15" y2="447.90" stroke="#222" stroke-width="1"/>
<line x1="46.15" y1="551.60" x2="46.15" y2="555.40" stroke="#222" stroke-width="1"/>
<text transform="translate(46.15 439.60) scale(0.93 1)" font-size="9.9" text-anchor="middle" fill="#1d1d1f" >180<tspan font-weight="bold">°</tspan></text>
<text transform="translate(46.15 566.80) scale(0.93 1)" font-size="9.9" text-anchor="middle" fill="#1d1d1f" >180<tspan font-weight="bold">°</tspan></text>
<line x1="90.73" y1="443.60" x2="90.73" y2="447.90" stroke="#222" stroke-width="1"/>
<line x1="90.73" y1="551.60" x2="90.73" y2="555.40" stroke="#222" stroke-width="1"/>
<text transform="translate(90.73 439.60) scale(0.93 1)" font-size="9.9" text-anchor="middle" fill="#1d1d1f" >120<tspan font-weight="bold">°</tspan>W</text>
<text transform="translate(90.73 566.80) scale(0.93 1)" font-size="9.9" text-anchor="middle" fill="#1d1d1f" >120<tspan font-weight="bold">°</tspan>W</text>
<line x1="135.32" y1="443.60" x2="135.32" y2="447.90" stroke="#222" stroke-width="1"/>
<line x1="135.32" y1="551.60" x2="135.32" y2="555.40" stroke="#222" stroke-width="1"/>
<text transform="translate(135.32 439.60) scale(0.93 1)" font-size="9.9" text-anchor="middle" fill="#1d1d1f" >60<tspan font-weight="bold">°</tspan>W</text>
<text transform="translate(135.32 566.80) scale(0.93 1)" font-size="9.9" text-anchor="middle" fill="#1d1d1f" >60<tspan font-weight="bold">°</tspan>W</text>
<line x1="179.90" y1="443.60" x2="179.90" y2="447.90" stroke="#222" stroke-width="1"/>
<line x1="179.90" y1="551.60" x2="179.90" y2="555.40" stroke="#222" stroke-width="1"/>
<text transform="translate(179.90 439.60) scale(0.93 1)" font-size="9.9" text-anchor="middle" fill="#1d1d1f" >0<tspan font-weight="bold">°</tspan></text>
<text transform="translate(179.90 566.80) scale(0.93 1)" font-size="9.9" text-anchor="middle" fill="#1d1d1f" >0<tspan font-weight="bold">°</tspan></text>
<line x1="224.48" y1="443.60" x2="224.48" y2="447.90" stroke="#222" stroke-width="1"/>
<line x1="224.48" y1="551.60" x2="224.48" y2="555.40" stroke="#222" stroke-width="1"/>
<text transform="translate(224.48 439.60) scale(0.93 1)" font-size="9.9" text-anchor="middle" fill="#1d1d1f" >60<tspan font-weight="bold">°</tspan>E</text>
<text transform="translate(224.48 566.80) scale(0.93 1)" font-size="9.9" text-anchor="middle" fill="#1d1d1f" >60<tspan font-weight="bold">°</tspan>E</text>
<line x1="269.07" y1="443.60" x2="269.07" y2="447.90" stroke="#222" stroke-width="1"/>
<line x1="269.07" y1="551.60" x2="269.07" y2="555.40" stroke="#222" stroke-width="1"/>
<text transform="translate(269.07 439.60) scale(0.93 1)" font-size="9.9" text-anchor="middle" fill="#1d1d1f" >120<tspan font-weight="bold">°</tspan>E</text>
<text transform="translate(269.07 566.80) scale(0.93 1)" font-size="9.9" text-anchor="middle" fill="#1d1d1f" >120<tspan font-weight="bold">°</tspan>E</text>
<line x1="313.65" y1="443.60" x2="313.65" y2="447.90" stroke="#222" stroke-width="1"/>
<line x1="313.65" y1="551.60" x2="313.65" y2="555.40" stroke="#222" stroke-width="1"/>
<text transform="translate(313.65 439.60) scale(0.93 1)" font-size="9.9" text-anchor="middle" fill="#1d1d1f" >180<tspan font-weight="bold">°</tspan></text>
<text transform="translate(313.65 566.80) scale(0.93 1)" font-size="9.9" text-anchor="middle" fill="#1d1d1f" >180<tspan font-weight="bold">°</tspan></text>
<line x1="41.60" y1="452.50" x2="45.90" y2="452.50" stroke="#222" stroke-width="1"/>
<line x1="313.90" y1="452.50" x2="318.20" y2="452.50" stroke="#222" stroke-width="1"/>
<text transform="translate(36.90 455.80) scale(0.93 1)" font-size="9.9" text-anchor="end" fill="#1d1d1f" >60<tspan font-weight="bold">°</tspan>N</text>
<text transform="translate(321.90 455.80) scale(0.93 1)" font-size="9.9" text-anchor="start" fill="#1d1d1f" >60<tspan font-weight="bold">°</tspan>N</text>
<line x1="41.60" y1="476.15" x2="45.90" y2="476.15" stroke="#222" stroke-width="1"/>
<line x1="313.90" y1="476.15" x2="318.20" y2="476.15" stroke="#222" stroke-width="1"/>
<text transform="translate(36.90 479.45) scale(0.93 1)" font-size="9.9" text-anchor="end" fill="#1d1d1f" >30<tspan font-weight="bold">°</tspan>N</text>
<text transform="translate(321.90 479.45) scale(0.93 1)" font-size="9.9" text-anchor="start" fill="#1d1d1f" >30<tspan font-weight="bold">°</tspan>N</text>
<line x1="41.60" y1="499.80" x2="45.90" y2="499.80" stroke="#222" stroke-width="1"/>
<line x1="313.90" y1="499.80" x2="318.20" y2="499.80" stroke="#222" stroke-width="1"/>
<text transform="translate(36.90 503.10) scale(0.93 1)" font-size="9.9" text-anchor="end" fill="#1d1d1f" >0<tspan font-weight="bold">°</tspan></text>
<text transform="translate(321.90 503.10) scale(0.93 1)" font-size="9.9" text-anchor="start" fill="#1d1d1f" >0<tspan font-weight="bold">°</tspan></text>
<line x1="41.60" y1="523.45" x2="45.90" y2="523.45" stroke="#222" stroke-width="1"/>
<line x1="313.90" y1="523.45" x2="318.20" y2="523.45" stroke="#222" stroke-width="1"/>
<text transform="translate(36.90 526.75) scale(0.93 1)" font-size="9.9" text-anchor="end" fill="#1d1d1f" >30<tspan font-weight="bold">°</tspan>S</text>
<text transform="translate(321.90 526.75) scale(0.93 1)" font-size="9.9" text-anchor="start" fill="#1d1d1f" >30<tspan font-weight="bold">°</tspan>S</text>
<line x1="41.60" y1="547.10" x2="45.90" y2="547.10" stroke="#222" stroke-width="1"/>
<line x1="313.90" y1="547.10" x2="318.20" y2="547.10" stroke="#222" stroke-width="1"/>
<text transform="translate(36.90 550.40) scale(0.93 1)" font-size="9.9" text-anchor="end" fill="#1d1d1f" >60<tspan font-weight="bold">°</tspan>S</text>
<text transform="translate(321.90 550.40) scale(0.93 1)" font-size="9.9" text-anchor="start" fill="#1d1d1f" >60<tspan font-weight="bold">°</tspan>S</text>
<g transform="translate(414.90,447.50)" clip-path="url(#mclip)"><rect x="0" y="0" width="270" height="106" fill="#8a928d"/><path d="M73,15 L83,9.5 L95,7 L108,5.7 L122,5.5 L136,5.7 L150,6.5 L161,7.6 L163,11.4 L158,18 L155,22 L150,28 L159,30.5 L167,32 L178,34 L184,44 L182,57 L174,68.6 L161,70.5 L150,63 L140,57 L132,63 L123,76 L111,80 L104,72 L92,61 L83,48 L75,29 Z" fill="#b6b2b2" opacity="0.92" filter="url(#b3)"/><ellipse cx="92" cy="36" rx="10" ry="15" fill="#5476a7" opacity="0.8" filter="url(#b3)"/><ellipse cx="91" cy="33" rx="6" ry="9" fill="#2a4485" opacity="0.85" filter="url(#b2)"/><ellipse cx="96" cy="47" rx="4" ry="4" fill="#375694" opacity="0.8" filter="url(#b2)"/><ellipse cx="100" cy="20" rx="6" ry="5" fill="#6388b2" opacity="0.7" filter="url(#b2)"/><ellipse cx="112" cy="24" rx="9" ry="8" fill="#547aaa" opacity="0.6" filter="url(#b3)"/><ellipse cx="104" cy="60" rx="6" ry="8" fill="#547aaa" opacity="0.45" filter="url(#b3)"/><ellipse cx="116" cy="22" rx="6" ry="7" fill="#6388b2" opacity="0.6" filter="url(#b2)"/><ellipse cx="110" cy="42" rx="5" ry="6" fill="#6388b2" opacity="0.45" filter="url(#b2)"/><ellipse cx="108" cy="67" rx="6" ry="7" fill="#547aaa" opacity="0.6" filter="url(#b2)"/><ellipse cx="120" cy="72" rx="4" ry="4" fill="#6388b2" opacity="0.5" filter="url(#b2)"/><ellipse cx="156.5" cy="45" rx="9.5" ry="8.5" fill="#283570" opacity="0.95" filter="url(#b2)"/><ellipse cx="141.5" cy="41.5" rx="4" ry="4" fill="#6388b2" opacity="0.7" filter="url(#b1)"/><ellipse cx="173.5" cy="51.5" rx="3.5" ry="3.5" fill="#385b97" opacity="0.8" filter="url(#b1)"/><ellipse cx="179" cy="38" rx="4" ry="3" fill="#7e97b1" opacity="0.5" filter="url(#b1)"/><path d="M0,68 L10,70 L22,76 L32,86 L38,95 L42,104 L0,104 Z" fill="#b6b2b2" opacity="0.9" filter="url(#b3)"/><ellipse cx="200" cy="90" rx="16" ry="14" fill="#b6b2b2" opacity="0.55" filter="url(#b5)"/><ellipse cx="262" cy="90" rx="12" ry="14" fill="#b6b2b2" opacity="0.55" filter="url(#b5)"/><ellipse cx="191" cy="6.6" rx="4" ry="2" fill="#b6b2b2" opacity="0.8" filter="url(#b1)"/><ellipse cx="244.5" cy="30" rx="3" ry="3" fill="#b6b2b2" opacity="0.8" filter="url(#b1)"/><ellipse cx="95.6" cy="88" rx="5" ry="4" fill="#b6b2b2" opacity="0.5" filter="url(#b2)"/><ellipse cx="14" cy="82" rx="1.5" ry="1.5" fill="#466b9f" opacity="0.7"/><line x1="51.4" y1="37" x2="51.4" y2="73" stroke="#2c3353" stroke-width="0.7" opacity="0.7"/><line x1="38.6" y1="38" x2="38.6" y2="61" stroke="#3a415b" stroke-width="0.7" opacity="0.5"/><rect x="0" y="0" width="270" height="106" filter="url(#noise)" opacity="0.35000000000000003"/><rect x="0" y="0" width="270" height="106" filter="url(#noiseD)" opacity="0.18200000000000002"/></g>
<rect x="416.05" y="448.30" width="267.50" height="102.90" fill="none" stroke="#17202b" stroke-width="1.6"/>
<line x1="416.05" y1="443.60" x2="416.05" y2="447.90" stroke="#222" stroke-width="1"/>
<line x1="416.05" y1="551.60" x2="416.05" y2="555.40" stroke="#222" stroke-width="1"/>
<text transform="translate(416.05 439.60) scale(0.93 1)" font-size="9.9" text-anchor="middle" fill="#1d1d1f" >180<tspan font-weight="bold">°</tspan></text>
<text transform="translate(416.05 566.80) scale(0.93 1)" font-size="9.9" text-anchor="middle" fill="#1d1d1f" >180<tspan font-weight="bold">°</tspan></text>
<line x1="460.63" y1="443.60" x2="460.63" y2="447.90" stroke="#222" stroke-width="1"/>
<line x1="460.63" y1="551.60" x2="460.63" y2="555.40" stroke="#222" stroke-width="1"/>
<text transform="translate(460.63 439.60) scale(0.93 1)" font-size="9.9" text-anchor="middle" fill="#1d1d1f" >120<tspan font-weight="bold">°</tspan>W</text>
<text transform="translate(460.63 566.80) scale(0.93 1)" font-size="9.9" text-anchor="middle" fill="#1d1d1f" >120<tspan font-weight="bold">°</tspan>W</text>
<line x1="505.22" y1="443.60" x2="505.22" y2="447.90" stroke="#222" stroke-width="1"/>
<line x1="505.22" y1="551.60" x2="505.22" y2="555.40" stroke="#222" stroke-width="1"/>
<text transform="translate(505.22 439.60) scale(0.93 1)" font-size="9.9" text-anchor="middle" fill="#1d1d1f" >60<tspan font-weight="bold">°</tspan>W</text>
<text transform="translate(505.22 566.80) scale(0.93 1)" font-size="9.9" text-anchor="middle" fill="#1d1d1f" >60<tspan font-weight="bold">°</tspan>W</text>
<line x1="549.80" y1="443.60" x2="549.80" y2="447.90" stroke="#222" stroke-width="1"/>
<line x1="549.80" y1="551.60" x2="549.80" y2="555.40" stroke="#222" stroke-width="1"/>
<text transform="translate(549.80 439.60) scale(0.93 1)" font-size="9.9" text-anchor="middle" fill="#1d1d1f" >0<tspan font-weight="bold">°</tspan></text>
<text transform="translate(549.80 566.80) scale(0.93 1)" font-size="9.9" text-anchor="middle" fill="#1d1d1f" >0<tspan font-weight="bold">°</tspan></text>
<line x1="594.38" y1="443.60" x2="594.38" y2="447.90" stroke="#222" stroke-width="1"/>
<line x1="594.38" y1="551.60" x2="594.38" y2="555.40" stroke="#222" stroke-width="1"/>
<text transform="translate(594.38 439.60) scale(0.93 1)" font-size="9.9" text-anchor="middle" fill="#1d1d1f" >60<tspan font-weight="bold">°</tspan>E</text>
<text transform="translate(594.38 566.80) scale(0.93 1)" font-size="9.9" text-anchor="middle" fill="#1d1d1f" >60<tspan font-weight="bold">°</tspan>E</text>
<line x1="638.97" y1="443.60" x2="638.97" y2="447.90" stroke="#222" stroke-width="1"/>
<line x1="638.97" y1="551.60" x2="638.97" y2="555.40" stroke="#222" stroke-width="1"/>
<text transform="translate(638.97 439.60) scale(0.93 1)" font-size="9.9" text-anchor="middle" fill="#1d1d1f" >120<tspan font-weight="bold">°</tspan>E</text>
<text transform="translate(638.97 566.80) scale(0.93 1)" font-size="9.9" text-anchor="middle" fill="#1d1d1f" >120<tspan font-weight="bold">°</tspan>E</text>
<line x1="683.55" y1="443.60" x2="683.55" y2="447.90" stroke="#222" stroke-width="1"/>
<line x1="683.55" y1="551.60" x2="683.55" y2="555.40" stroke="#222" stroke-width="1"/>
<text transform="translate(683.55 439.60) scale(0.93 1)" font-size="9.9" text-anchor="middle" fill="#1d1d1f" >180<tspan font-weight="bold">°</tspan></text>
<text transform="translate(683.55 566.80) scale(0.93 1)" font-size="9.9" text-anchor="middle" fill="#1d1d1f" >180<tspan font-weight="bold">°</tspan></text>
<line x1="411.50" y1="452.50" x2="415.80" y2="452.50" stroke="#222" stroke-width="1"/>
<line x1="683.80" y1="452.50" x2="688.10" y2="452.50" stroke="#222" stroke-width="1"/>
<text transform="translate(406.80 455.80) scale(0.93 1)" font-size="9.9" text-anchor="end" fill="#1d1d1f" >60<tspan font-weight="bold">°</tspan>N</text>
<text transform="translate(691.80 455.80) scale(0.93 1)" font-size="9.9" text-anchor="start" fill="#1d1d1f" >60<tspan font-weight="bold">°</tspan>N</text>
<line x1="411.50" y1="476.15" x2="415.80" y2="476.15" stroke="#222" stroke-width="1"/>
<line x1="683.80" y1="476.15" x2="688.10" y2="476.15" stroke="#222" stroke-width="1"/>
<text transform="translate(406.80 479.45) scale(0.93 1)" font-size="9.9" text-anchor="end" fill="#1d1d1f" >30<tspan font-weight="bold">°</tspan>N</text>
<text transform="translate(691.80 479.45) scale(0.93 1)" font-size="9.9" text-anchor="start" fill="#1d1d1f" >30<tspan font-weight="bold">°</tspan>N</text>
<line x1="411.50" y1="499.80" x2="415.80" y2="499.80" stroke="#222" stroke-width="1"/>
<line x1="683.80" y1="499.80" x2="688.10" y2="499.80" stroke="#222" stroke-width="1"/>
<text transform="translate(406.80 503.10) scale(0.93 1)" font-size="9.9" text-anchor="end" fill="#1d1d1f" >0<tspan font-weight="bold">°</tspan></text>
<text transform="translate(691.80 503.10) scale(0.93 1)" font-size="9.9" text-anchor="start" fill="#1d1d1f" >0<tspan font-weight="bold">°</tspan></text>
<line x1="411.50" y1="523.45" x2="415.80" y2="523.45" stroke="#222" stroke-width="1"/>
<line x1="683.80" y1="523.45" x2="688.10" y2="523.45" stroke="#222" stroke-width="1"/>
<text transform="translate(406.80 526.75) scale(0.93 1)" font-size="9.9" text-anchor="end" fill="#1d1d1f" >30<tspan font-weight="bold">°</tspan>S</text>
<text transform="translate(691.80 526.75) scale(0.93 1)" font-size="9.9" text-anchor="start" fill="#1d1d1f" >30<tspan font-weight="bold">°</tspan>S</text>
<line x1="411.50" y1="547.10" x2="415.80" y2="547.10" stroke="#222" stroke-width="1"/>
<line x1="683.80" y1="547.10" x2="688.10" y2="547.10" stroke="#222" stroke-width="1"/>
<text transform="translate(406.80 550.40) scale(0.93 1)" font-size="9.9" text-anchor="end" fill="#1d1d1f" >60<tspan font-weight="bold">°</tspan>S</text>
<text transform="translate(691.80 550.40) scale(0.93 1)" font-size="9.9" text-anchor="start" fill="#1d1d1f" >60<tspan font-weight="bold">°</tspan>S</text>
<linearGradient id="g0" x1="0" x2="1" y1="0" y2="0"><stop offset="0" stop-color="#4a4f7e"/><stop offset="0.1" stop-color="#55558f"/><stop offset="0.25" stop-color="#5b6fa0"/><stop offset="0.45" stop-color="#6a88ab"/><stop offset="0.55" stop-color="#7399ab"/><stop offset="0.65" stop-color="#88a8ac"/><stop offset="0.75" stop-color="#b0b8b0"/><stop offset="0.79" stop-color="#c9c3b3"/><stop offset="0.85" stop-color="#d8d0c4"/><stop offset="1" stop-color="#f2e8e8"/></linearGradient>
<rect x="70.8" y="178.0" width="223.00" height="13.60" fill="url(#g0)"/>
<text transform="translate(73.60 202.90) scale(0.93 1)" font-size="9.9" text-anchor="middle" fill="#1d1d1f" >0</text>
<text transform="translate(117.00 202.90) scale(0.93 1)" font-size="9.9" text-anchor="middle" fill="#1d1d1f" >5</text>
<text transform="translate(171.60 202.90) scale(0.93 1)" font-size="9.9" text-anchor="middle" fill="#1d1d1f" >13</text>
<text transform="translate(218.80 202.90) scale(0.93 1)" font-size="9.9" text-anchor="middle" fill="#1d1d1f" >17</text>
<text transform="translate(280.20 202.90) scale(0.93 1)" font-size="9.9" text-anchor="middle" fill="#1d1d1f" >24</text>
<text x="183.80" y="169.30" font-size="10.2" text-anchor="middle" fill="#1d1d22"><tspan>FeO (wt%)</tspan></text>
<linearGradient id="g1" x1="0" x2="1" y1="0" y2="0"><stop offset="0" stop-color="#4a4f7e"/><stop offset="0.25" stop-color="#565a96"/><stop offset="0.45" stop-color="#5f75a4"/><stop offset="0.55" stop-color="#6888ab"/><stop offset="0.65" stop-color="#7a9aaa"/><stop offset="0.78" stop-color="#a0b0ac"/><stop offset="0.88" stop-color="#c8ccc8"/><stop offset="1" stop-color="#f2e8e8"/></linearGradient>
<rect x="438.3" y="178.0" width="222.50" height="13.50" fill="url(#g1)"/>
<text transform="translate(441.70 202.90) scale(0.93 1)" font-size="9.9" text-anchor="middle" fill="#1d1d1f" >0</text>
<text transform="translate(490.50 202.90) scale(0.93 1)" font-size="9.9" text-anchor="middle" fill="#1d1d1f" >3</text>
<text transform="translate(536.00 202.90) scale(0.93 1)" font-size="9.9" text-anchor="middle" fill="#1d1d1f" >6</text>
<text transform="translate(580.00 202.90) scale(0.93 1)" font-size="9.9" text-anchor="middle" fill="#1d1d1f" >8</text>
<text transform="translate(649.70 202.90) scale(0.93 1)" font-size="9.9" text-anchor="middle" fill="#1d1d1f" >12</text>
<text x="553.00" y="169.30" font-size="10.2" text-anchor="middle" fill="#1d1d22"><tspan>TiO</tspan><tspan font-size="7" dy="2.9">2</tspan><tspan dy="-2.9">​</tspan><tspan> (wt%)</tspan></text>
<linearGradient id="g2" x1="0" x2="1" y1="0" y2="0"><stop offset="0" stop-color="#4a4e7e"/><stop offset="0.3" stop-color="#575a96"/><stop offset="0.45" stop-color="#5a6aa0"/><stop offset="0.52" stop-color="#6480a8"/><stop offset="0.6" stop-color="#7094aa"/><stop offset="0.7" stop-color="#84a2aa"/><stop offset="0.78" stop-color="#b0b4a8"/><stop offset="0.85" stop-color="#cfc6b8"/><stop offset="1" stop-color="#f2e8e8"/></linearGradient>
<rect x="71.3" y="384.3" width="222.30" height="13.60" fill="url(#g2)"/>
<text transform="translate(74.60 409.20) scale(0.93 1)" font-size="9.9" text-anchor="middle" fill="#1d1d1f" >5</text>
<text transform="translate(141.80 409.20) scale(0.93 1)" font-size="9.9" text-anchor="middle" fill="#1d1d1f" >16</text>
<text transform="translate(185.20 409.20) scale(0.93 1)" font-size="9.9" text-anchor="middle" fill="#1d1d1f" >21</text>
<text transform="translate(227.00 409.20) scale(0.93 1)" font-size="9.9" text-anchor="middle" fill="#1d1d1f" >26</text>
<text transform="translate(282.50 409.20) scale(0.93 1)" font-size="9.9" text-anchor="middle" fill="#1d1d1f" >33</text>
<text x="186.70" y="375.60" font-size="10.2" text-anchor="middle" fill="#1d1d22"><tspan>Al</tspan><tspan font-size="7" dy="2.9">2</tspan><tspan dy="-2.9">​</tspan><tspan>O</tspan><tspan font-size="7" dy="2.9">3</tspan><tspan dy="-2.9">​</tspan><tspan> (wt%)</tspan></text>
<linearGradient id="g3" x1="0" x2="1" y1="0" y2="0"><stop offset="0" stop-color="#4a4e7e"/><stop offset="0.2" stop-color="#575a96"/><stop offset="0.35" stop-color="#5a6ca2"/><stop offset="0.5" stop-color="#6c8caa"/><stop offset="0.6" stop-color="#84a0a8"/><stop offset="0.7" stop-color="#a8b0a8"/><stop offset="0.8" stop-color="#cbc4b8"/><stop offset="0.9" stop-color="#e0d8d0"/><stop offset="1" stop-color="#f2e8e8"/></linearGradient>
<rect x="435.2" y="384.3" width="221.00" height="13.60" fill="url(#g3)"/>
<text transform="translate(437.10 409.20) scale(0.93 1)" font-size="9.9" text-anchor="middle" fill="#1d1d1f" >1</text>
<text transform="translate(501.10 409.20) scale(0.93 1)" font-size="9.9" text-anchor="middle" fill="#1d1d1f" >5</text>
<text transform="translate(545.70 409.20) scale(0.93 1)" font-size="9.9" text-anchor="middle" fill="#1d1d1f" >7</text>
<text transform="translate(587.60 409.20) scale(0.93 1)" font-size="9.9" text-anchor="middle" fill="#1d1d1f" >9</text>
<text transform="translate(647.40 409.20) scale(0.93 1)" font-size="9.9" text-anchor="middle" fill="#1d1d1f" >12</text>
<text x="554.00" y="375.60" font-size="10.2" text-anchor="middle" fill="#1d1d22"><tspan>MgO (wt%)</tspan></text>
<linearGradient id="g4" x1="0" x2="1" y1="0" y2="0"><stop offset="0" stop-color="#1e2858"/><stop offset="0.1" stop-color="#25357a"/><stop offset="0.2" stop-color="#2a4a88"/><stop offset="0.3" stop-color="#3a6090"/><stop offset="0.4" stop-color="#467898"/><stop offset="0.5" stop-color="#5a8a9a"/><stop offset="0.6" stop-color="#74969a"/><stop offset="0.7" stop-color="#949e92"/><stop offset="0.75" stop-color="#a8a48c"/><stop offset="0.8" stop-color="#b8b098"/><stop offset="0.9" stop-color="#d0c8bc"/><stop offset="1" stop-color="#f0e6e8"/></linearGradient>
<rect x="60.9" y="591.0" width="222.10" height="17.00" fill="url(#g4)"/>
<text transform="translate(65.50 619.30) scale(0.93 1)" font-size="9.9" text-anchor="middle" fill="#1d1d1f" >8</text>
<text transform="translate(124.90 619.30) scale(0.93 1)" font-size="9.9" text-anchor="middle" fill="#1d1d1f" >11</text>
<text transform="translate(169.80 619.30) scale(0.93 1)" font-size="9.9" text-anchor="middle" fill="#1d1d1f" >13</text>
<text transform="translate(218.00 619.30) scale(0.93 1)" font-size="9.9" text-anchor="middle" fill="#1d1d1f" >16</text>
<text transform="translate(272.80 619.30) scale(0.93 1)" font-size="9.9" text-anchor="middle" fill="#1d1d1f" >18</text>
<text x="184.30" y="582.80" font-size="10.2" text-anchor="middle" fill="#1d1d22"><tspan>CaO (wt%)</tspan></text>
<linearGradient id="g5" x1="0" x2="1" y1="0" y2="0"><stop offset="0" stop-color="#1e2a5a"/><stop offset="0.12" stop-color="#243580"/><stop offset="0.25" stop-color="#284888"/><stop offset="0.4" stop-color="#38608e"/><stop offset="0.5" stop-color="#4a7a98"/><stop offset="0.6" stop-color="#6a909a"/><stop offset="0.7" stop-color="#8aa098"/><stop offset="0.78" stop-color="#a8a890"/><stop offset="0.85" stop-color="#c0b8a8"/><stop offset="1" stop-color="#f0e6e8"/></linearGradient>
<rect x="438.1" y="591.2" width="231.10" height="16.60" fill="url(#g5)"/>
<text transform="translate(443.50 619.30) scale(0.93 1)" font-size="9.9" text-anchor="middle" fill="#1d1d1f" >37</text>
<text transform="translate(501.60 619.30) scale(0.93 1)" font-size="9.9" text-anchor="middle" fill="#1d1d1f" >41</text>
<text transform="translate(552.90 619.30) scale(0.93 1)" font-size="9.9" text-anchor="middle" fill="#1d1d1f" >43</text>
<text transform="translate(605.00 619.30) scale(0.93 1)" font-size="9.9" text-anchor="middle" fill="#1d1d1f" >46</text>
<text transform="translate(658.60 619.30) scale(0.93 1)" font-size="9.9" text-anchor="middle" fill="#1d1d1f" >48.5</text>
<text x="554.00" y="582.80" font-size="10.2" text-anchor="middle" fill="#1d1d22"><tspan>SiO</tspan><tspan font-size="7" dy="2.9">2</tspan><tspan dy="-2.9">​</tspan><tspan> (wt%)</tspan></text>
<rect x="295.5" y="594.6" width="76.6" height="9.6" fill="#fff" stroke="#111" stroke-width="1"/>
<rect x="295.5" y="594.6" width="38.8" height="9.6" fill="#111"/>
<text x="376.8" y="602.5" font-size="11.3" fill="#1d1d22">Kilometers</text>
<text transform="translate(295.6 619.3) scale(0.93 1)" font-size="9.9" text-anchor="middle" fill="#1d1d22">0</text>
<text transform="translate(313.3 619.3) scale(0.93 1)" font-size="9.9" text-anchor="middle" fill="#1d1d22">500</text>
<text transform="translate(336.2 619.3) scale(0.93 1)" font-size="9.9" text-anchor="middle" fill="#1d1d22">1,000</text>
<text transform="translate(371.4 619.3) scale(0.93 1)" font-size="9.9" text-anchor="middle" fill="#1d1d22">2,000</text>
</svg>
</body></html>
